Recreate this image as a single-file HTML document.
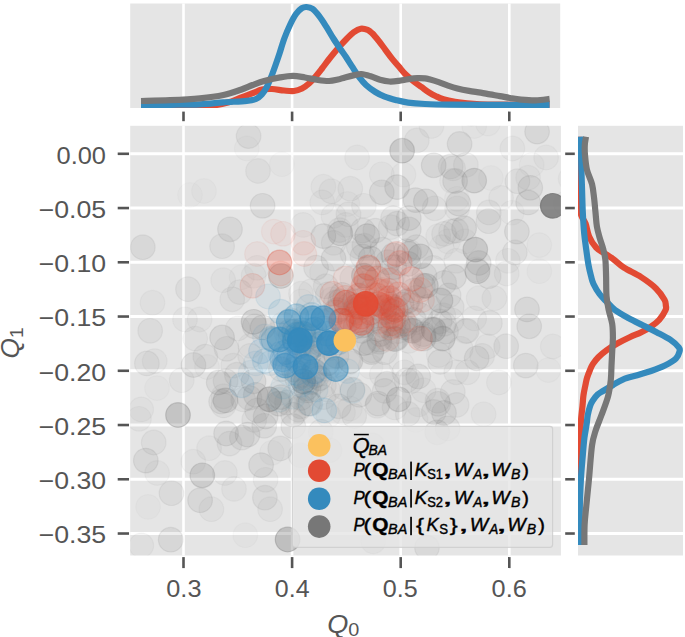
<!DOCTYPE html>
<html><head><meta charset="utf-8"><style>
html,body{margin:0;padding:0;background:#fff;}
svg{display:block;font-family:"Liberation Sans", sans-serif;}
</style></head><body>
<svg width="685" height="637" viewBox="0 0 685 637">
<defs>
<clipPath id="cm"><rect x="130.2" y="125.8" width="430.7" height="429.7"/></clipPath>
<clipPath id="ct"><rect x="130.2" y="3.5" width="430.00000000000006" height="104.5"/></clipPath>
<clipPath id="cr"><rect x="578.0" y="125.8" width="105.0" height="429.7"/></clipPath>
</defs>
<rect width="685" height="637" fill="#fff"/>
<rect x="130.2" y="3.5" width="430.00" height="104.5" fill="#E5E5E5"/>
<line x1="183.50" y1="3.5" x2="183.50" y2="108.0" stroke="#fff" stroke-width="2.6"/>
<line x1="183.50" y1="111.6" x2="183.50" y2="121.2" stroke="#555555" stroke-width="2.6"/>
<line x1="292.10" y1="3.5" x2="292.10" y2="108.0" stroke="#fff" stroke-width="2.6"/>
<line x1="292.10" y1="111.6" x2="292.10" y2="121.2" stroke="#555555" stroke-width="2.6"/>
<line x1="400.70" y1="3.5" x2="400.70" y2="108.0" stroke="#fff" stroke-width="2.6"/>
<line x1="400.70" y1="111.6" x2="400.70" y2="121.2" stroke="#555555" stroke-width="2.6"/>
<line x1="509.30" y1="3.5" x2="509.30" y2="108.0" stroke="#fff" stroke-width="2.6"/>
<line x1="509.30" y1="111.6" x2="509.30" y2="121.2" stroke="#555555" stroke-width="2.6"/>
<path d="M141.00,106.80 C147.50,106.77 168.50,106.77 180.00,106.60 C191.50,106.43 202.00,106.48 210.00,105.80 C218.00,105.12 223.00,103.80 228.00,102.50 C233.00,101.20 235.90,99.55 240.00,98.00 C244.10,96.45 248.93,94.60 252.60,93.20 C256.27,91.80 258.77,90.30 262.00,89.60 C265.23,88.90 268.33,88.85 272.00,89.00 C275.67,89.15 280.33,90.17 284.00,90.50 C287.67,90.83 291.00,91.33 294.00,91.00 C297.00,90.67 299.50,89.75 302.00,88.50 C304.50,87.25 306.67,85.58 309.00,83.50 C311.33,81.42 313.83,78.50 316.00,76.00 C318.17,73.50 320.00,71.08 322.00,68.50 C324.00,65.92 326.00,63.08 328.00,60.50 C330.00,57.92 332.00,55.42 334.00,53.00 C336.00,50.58 337.83,48.42 340.00,46.00 C342.17,43.58 344.72,40.80 347.00,38.50 C349.28,36.20 351.42,33.83 353.70,32.20 C355.98,30.57 358.37,29.08 360.70,28.70 C363.03,28.32 365.78,29.13 367.70,29.90 C369.62,30.67 370.35,31.45 372.20,33.30 C374.05,35.15 376.60,38.25 378.80,41.00 C381.00,43.75 383.20,46.87 385.40,49.80 C387.60,52.73 389.80,55.85 392.00,58.60 C394.20,61.35 396.40,63.73 398.60,66.30 C400.80,68.87 402.63,71.45 405.20,74.00 C407.77,76.55 411.27,79.42 414.00,81.60 C416.73,83.78 419.05,85.27 421.60,87.10 C424.15,88.93 426.90,91.08 429.30,92.60 C431.70,94.12 433.65,95.10 436.00,96.20 C438.35,97.30 440.23,98.27 443.40,99.20 C446.57,100.13 451.07,101.10 455.00,101.80 C458.93,102.50 462.83,102.98 467.00,103.40 C471.17,103.82 474.50,104.10 480.00,104.30 C485.50,104.50 488.40,104.53 500.00,104.60 C511.60,104.67 541.33,104.68 549.60,104.70" fill="none" stroke="#E24A33" stroke-width="6.2" stroke-linejoin="round" clip-path="url(#ct)"/>
<path d="M141.00,105.00 C145.83,104.97 160.17,104.92 170.00,104.80 C179.83,104.68 191.10,104.70 200.00,104.30 C208.90,103.90 215.62,102.98 223.40,102.40 C231.18,101.82 241.27,101.37 246.70,100.80 C252.13,100.23 253.47,100.07 256.00,99.00 C258.53,97.93 260.13,96.33 261.90,94.40 C263.67,92.47 265.05,90.32 266.60,87.40 C268.15,84.48 269.65,80.80 271.20,76.90 C272.75,73.00 274.52,67.90 275.90,64.00 C277.28,60.10 278.10,57.75 279.50,53.50 C280.90,49.25 282.52,43.33 284.30,38.50 C286.08,33.67 288.25,28.58 290.20,24.50 C292.15,20.42 294.05,16.72 296.00,14.00 C297.95,11.28 300.15,9.37 301.90,8.20 C303.65,7.03 304.75,6.90 306.50,7.00 C308.25,7.10 310.25,7.23 312.40,8.80 C314.55,10.37 317.07,13.38 319.40,16.40 C321.73,19.42 324.07,23.22 326.40,26.90 C328.73,30.58 331.07,34.82 333.40,38.50 C335.73,42.18 338.30,45.92 340.40,49.00 C342.50,52.08 344.07,54.10 346.00,57.00 C347.93,59.90 349.83,63.08 352.00,66.40 C354.17,69.72 356.67,73.80 359.00,76.90 C361.33,80.00 363.27,82.48 366.00,85.00 C368.73,87.52 372.28,90.05 375.40,92.00 C378.52,93.95 381.20,95.33 384.70,96.70 C388.20,98.07 392.50,99.22 396.40,100.20 C400.30,101.18 403.33,101.97 408.10,102.60 C412.87,103.23 418.02,103.65 425.00,104.00 C431.98,104.35 437.50,104.55 450.00,104.70 C462.50,104.85 483.40,104.87 500.00,104.90 C516.60,104.93 541.33,104.90 549.60,104.90" fill="none" stroke="#348ABD" stroke-width="6.2" stroke-linejoin="round" clip-path="url(#ct)"/>
<path d="M141.00,101.00 C145.83,100.87 160.17,100.65 170.00,100.20 C179.83,99.75 191.10,99.17 200.00,98.30 C208.90,97.43 216.58,96.43 223.40,95.00 C230.22,93.57 236.03,91.37 240.90,89.70 C245.77,88.03 248.72,86.45 252.60,85.00 C256.48,83.55 259.63,82.27 264.20,81.00 C268.77,79.73 275.20,78.27 280.00,77.40 C284.80,76.53 288.83,75.78 293.00,75.80 C297.17,75.82 300.83,76.80 305.00,77.50 C309.17,78.20 314.00,79.42 318.00,80.00 C322.00,80.58 325.67,81.08 329.00,81.00 C332.33,80.92 335.33,80.10 338.00,79.50 C340.67,78.90 342.28,78.13 345.00,77.40 C347.72,76.67 351.57,75.67 354.30,75.10 C357.03,74.53 358.67,73.80 361.40,74.00 C364.13,74.20 367.60,75.33 370.70,76.30 C373.80,77.27 376.88,78.93 380.00,79.80 C383.12,80.67 386.28,81.32 389.40,81.50 C392.52,81.68 395.58,81.28 398.70,80.90 C401.82,80.52 404.98,79.67 408.10,79.20 C411.22,78.73 414.58,78.25 417.40,78.10 C420.22,77.95 423.02,78.12 425.00,78.30 C426.98,78.48 427.02,78.57 429.30,79.20 C431.58,79.83 435.58,81.03 438.70,82.10 C441.82,83.17 444.88,84.53 448.00,85.60 C451.12,86.67 453.90,87.62 457.40,88.50 C460.90,89.38 465.12,90.22 469.00,90.90 C472.88,91.58 477.20,92.02 480.70,92.60 C484.20,93.18 486.78,93.82 490.00,94.40 C493.22,94.98 496.67,95.50 500.00,96.10 C503.33,96.70 506.50,97.42 510.00,98.00 C513.50,98.58 516.72,99.20 521.00,99.60 C525.28,100.00 530.93,100.52 535.70,100.40 C540.47,100.28 547.28,99.15 549.60,98.90" fill="none" stroke="#777777" stroke-width="6.2" stroke-linejoin="round" clip-path="url(#ct)"/>
<rect x="578.0" y="125.8" width="105.0" height="429.7" fill="#E5E5E5"/>
<line x1="578.0" y1="153.80" x2="683.0" y2="153.80" stroke="#fff" stroke-width="2.9"/>
<line x1="565.2" y1="153.80" x2="574.8" y2="153.80" stroke="#555555" stroke-width="2.6"/>
<line x1="578.0" y1="208.05" x2="683.0" y2="208.05" stroke="#fff" stroke-width="2.9"/>
<line x1="565.2" y1="208.05" x2="574.8" y2="208.05" stroke="#555555" stroke-width="2.6"/>
<line x1="578.0" y1="262.29" x2="683.0" y2="262.29" stroke="#fff" stroke-width="2.9"/>
<line x1="565.2" y1="262.29" x2="574.8" y2="262.29" stroke="#555555" stroke-width="2.6"/>
<line x1="578.0" y1="316.54" x2="683.0" y2="316.54" stroke="#fff" stroke-width="2.9"/>
<line x1="565.2" y1="316.54" x2="574.8" y2="316.54" stroke="#555555" stroke-width="2.6"/>
<line x1="578.0" y1="370.78" x2="683.0" y2="370.78" stroke="#fff" stroke-width="2.9"/>
<line x1="565.2" y1="370.78" x2="574.8" y2="370.78" stroke="#555555" stroke-width="2.6"/>
<line x1="578.0" y1="425.03" x2="683.0" y2="425.03" stroke="#fff" stroke-width="2.9"/>
<line x1="565.2" y1="425.03" x2="574.8" y2="425.03" stroke="#555555" stroke-width="2.6"/>
<line x1="578.0" y1="479.27" x2="683.0" y2="479.27" stroke="#fff" stroke-width="2.9"/>
<line x1="565.2" y1="479.27" x2="574.8" y2="479.27" stroke="#555555" stroke-width="2.6"/>
<line x1="578.0" y1="533.52" x2="683.0" y2="533.52" stroke="#fff" stroke-width="2.9"/>
<line x1="565.2" y1="533.52" x2="574.8" y2="533.52" stroke="#555555" stroke-width="2.6"/>
<path d="M578.80,136.70 C578.77,140.58 578.65,152.12 578.60,160.00 C578.55,167.88 578.40,176.45 578.50,184.00 C578.60,191.55 578.70,199.97 579.20,205.30 C579.70,210.63 580.43,212.95 581.50,216.00 C582.57,219.05 584.33,220.20 585.60,223.60 C586.87,227.00 587.33,232.38 589.10,236.40 C590.87,240.42 593.62,244.88 596.20,247.70 C598.78,250.52 601.78,251.43 604.60,253.30 C607.42,255.17 609.87,256.50 613.10,258.90 C616.33,261.30 619.35,264.68 624.00,267.70 C628.65,270.72 635.67,273.55 641.00,277.00 C646.33,280.45 652.08,284.62 656.00,288.40 C659.92,292.18 662.87,296.88 664.50,299.70 C666.13,302.52 665.62,303.58 665.80,305.30 C665.98,307.02 666.68,307.60 665.60,310.00 C664.52,312.40 661.73,316.93 659.30,319.70 C656.87,322.47 654.00,324.52 651.00,326.60 C648.00,328.68 644.77,330.47 641.30,332.20 C637.83,333.93 634.13,335.15 630.20,337.00 C626.27,338.85 621.63,341.10 617.70,343.30 C613.77,345.50 609.83,347.88 606.60,350.20 C603.37,352.52 600.60,354.88 598.30,357.20 C596.00,359.52 594.18,361.97 592.80,364.10 C591.42,366.23 590.97,367.68 590.00,370.00 C589.03,372.32 587.77,375.47 587.00,378.00 C586.23,380.53 585.98,382.37 585.40,385.20 C584.82,388.03 583.98,391.55 583.50,395.00 C583.02,398.45 582.97,400.93 582.50,405.90 C582.03,410.87 581.17,416.00 580.70,424.80 C580.23,433.60 579.93,446.17 579.70,458.70 C579.47,471.23 579.38,485.62 579.30,500.00 C579.22,514.38 579.22,537.50 579.20,545.00" fill="none" stroke="#E24A33" stroke-width="6.2" stroke-linejoin="round" clip-path="url(#cr)"/>
<path d="M580.50,136.70 C580.58,138.92 580.85,144.45 581.00,150.00 C581.15,155.55 581.22,163.13 581.40,170.00 C581.58,176.87 581.87,184.13 582.10,191.20 C582.33,198.27 582.45,205.35 582.80,212.40 C583.15,219.45 583.62,227.23 584.20,233.50 C584.78,239.77 585.58,244.75 586.30,250.00 C587.02,255.25 587.72,260.67 588.50,265.00 C589.28,269.33 590.17,272.83 591.00,276.00 C591.83,279.17 592.08,281.00 593.50,284.00 C594.92,287.00 597.42,291.17 599.50,294.00 C601.58,296.83 603.42,298.33 606.00,301.00 C608.58,303.67 611.20,307.12 615.00,310.00 C618.80,312.88 624.18,315.75 628.80,318.30 C633.42,320.85 638.07,322.98 642.70,325.30 C647.33,327.62 651.98,329.78 656.60,332.20 C661.22,334.62 666.70,337.27 670.40,339.80 C674.10,342.33 677.28,345.43 678.80,347.40 C680.32,349.37 679.97,349.75 679.50,351.60 C679.03,353.45 678.43,356.18 676.00,358.50 C673.57,360.82 669.07,363.42 664.90,365.50 C660.73,367.58 655.62,369.38 651.00,371.00 C646.38,372.62 641.82,373.82 637.20,375.20 C632.58,376.58 627.38,377.63 623.30,379.30 C619.22,380.97 616.08,383.25 612.70,385.20 C609.32,387.15 605.52,389.43 603.00,391.00 C600.48,392.57 599.35,392.93 597.60,394.60 C595.85,396.27 593.75,399.10 592.50,401.00 C591.25,402.90 590.88,403.67 590.10,406.00 C589.32,408.33 588.40,411.83 587.80,415.00 C587.20,418.17 587.07,421.17 586.50,425.00 C585.93,428.83 585.07,432.38 584.40,438.00 C583.73,443.62 583.07,452.08 582.50,458.70 C581.93,465.32 581.42,470.82 581.00,477.70 C580.58,484.58 580.22,493.78 580.00,500.00 C579.78,506.22 579.75,507.50 579.70,515.00 C579.65,522.50 579.70,540.00 579.70,545.00" fill="none" stroke="#348ABD" stroke-width="6.2" stroke-linejoin="round" clip-path="url(#cr)"/>
<path d="M586.00,136.70 C585.80,138.08 584.97,141.95 584.80,145.00 C584.63,148.05 584.63,150.83 585.00,155.00 C585.37,159.17 585.83,165.15 587.00,170.00 C588.17,174.85 590.82,179.40 592.00,184.10 C593.18,188.80 593.52,193.48 594.10,198.20 C594.68,202.92 595.03,207.68 595.50,212.40 C595.97,217.12 596.20,222.27 596.90,226.50 C597.60,230.73 598.65,234.03 599.70,237.80 C600.75,241.57 602.25,245.40 603.20,249.10 C604.15,252.80 604.92,255.35 605.40,260.00 C605.88,264.65 605.92,271.00 606.10,277.00 C606.28,283.00 606.07,290.50 606.50,296.00 C606.93,301.50 607.75,305.35 608.70,310.00 C609.65,314.65 611.50,319.28 612.20,323.90 C612.90,328.52 612.90,333.08 612.90,337.70 C612.90,342.32 612.43,346.97 612.20,351.60 C611.97,356.23 611.73,360.77 611.50,365.50 C611.27,370.23 611.38,374.83 610.80,380.00 C610.22,385.17 609.57,390.62 608.00,396.50 C606.43,402.38 603.45,409.65 601.40,415.30 C599.35,420.95 597.27,425.37 595.70,430.40 C594.13,435.43 593.10,437.62 592.00,445.50 C590.90,453.38 590.05,467.62 589.10,477.70 C588.15,487.78 587.05,498.15 586.30,506.00 C585.55,513.85 584.92,518.30 584.60,524.80 C584.28,531.30 584.43,541.63 584.40,545.00" fill="none" stroke="#777777" stroke-width="6.2" stroke-linejoin="round" clip-path="url(#cr)"/>
<rect x="130.2" y="125.8" width="430.7" height="429.7" fill="#E5E5E5"/>
<line x1="183.50" y1="125.8" x2="183.50" y2="555.5" stroke="#fff" stroke-width="2.6"/>
<line x1="183.50" y1="557.1" x2="183.50" y2="568.1" stroke="#555555" stroke-width="2.6"/>
<line x1="292.10" y1="125.8" x2="292.10" y2="555.5" stroke="#fff" stroke-width="2.6"/>
<line x1="292.10" y1="557.1" x2="292.10" y2="568.1" stroke="#555555" stroke-width="2.6"/>
<line x1="400.70" y1="125.8" x2="400.70" y2="555.5" stroke="#fff" stroke-width="2.6"/>
<line x1="400.70" y1="557.1" x2="400.70" y2="568.1" stroke="#555555" stroke-width="2.6"/>
<line x1="509.30" y1="125.8" x2="509.30" y2="555.5" stroke="#fff" stroke-width="2.6"/>
<line x1="509.30" y1="557.1" x2="509.30" y2="568.1" stroke="#555555" stroke-width="2.6"/>
<line x1="130.2" y1="153.80" x2="560.9" y2="153.80" stroke="#fff" stroke-width="2.9"/>
<line x1="117.69999999999999" y1="153.80" x2="129.0" y2="153.80" stroke="#555555" stroke-width="2.6"/>
<line x1="130.2" y1="208.05" x2="560.9" y2="208.05" stroke="#fff" stroke-width="2.9"/>
<line x1="117.69999999999999" y1="208.05" x2="129.0" y2="208.05" stroke="#555555" stroke-width="2.6"/>
<line x1="130.2" y1="262.29" x2="560.9" y2="262.29" stroke="#fff" stroke-width="2.9"/>
<line x1="117.69999999999999" y1="262.29" x2="129.0" y2="262.29" stroke="#555555" stroke-width="2.6"/>
<line x1="130.2" y1="316.54" x2="560.9" y2="316.54" stroke="#fff" stroke-width="2.9"/>
<line x1="117.69999999999999" y1="316.54" x2="129.0" y2="316.54" stroke="#555555" stroke-width="2.6"/>
<line x1="130.2" y1="370.78" x2="560.9" y2="370.78" stroke="#fff" stroke-width="2.9"/>
<line x1="117.69999999999999" y1="370.78" x2="129.0" y2="370.78" stroke="#555555" stroke-width="2.6"/>
<line x1="130.2" y1="425.03" x2="560.9" y2="425.03" stroke="#fff" stroke-width="2.9"/>
<line x1="117.69999999999999" y1="425.03" x2="129.0" y2="425.03" stroke="#555555" stroke-width="2.6"/>
<line x1="130.2" y1="479.27" x2="560.9" y2="479.27" stroke="#fff" stroke-width="2.9"/>
<line x1="117.69999999999999" y1="479.27" x2="129.0" y2="479.27" stroke="#555555" stroke-width="2.6"/>
<line x1="130.2" y1="533.52" x2="560.9" y2="533.52" stroke="#fff" stroke-width="2.9"/>
<line x1="117.69999999999999" y1="533.52" x2="129.0" y2="533.52" stroke="#555555" stroke-width="2.6"/>
<g clip-path="url(#cm)">
<circle cx="300.7" cy="406.3" r="12.3" fill="#777777" stroke="#777777" stroke-width="1.2" fill-opacity="0.104" stroke-opacity="0.104"/>
<circle cx="301.1" cy="398.0" r="12.3" fill="#777777" stroke="#777777" stroke-width="1.2" fill-opacity="0.077" stroke-opacity="0.077"/>
<circle cx="444.0" cy="323.8" r="12.3" fill="#777777" stroke="#777777" stroke-width="1.2" fill-opacity="0.080" stroke-opacity="0.080"/>
<circle cx="369.6" cy="292.2" r="12.3" fill="#777777" stroke="#777777" stroke-width="1.2" fill-opacity="0.054" stroke-opacity="0.054"/>
<circle cx="514.8" cy="252.5" r="12.3" fill="#777777" stroke="#777777" stroke-width="1.2" fill-opacity="0.085" stroke-opacity="0.085"/>
<circle cx="592.2" cy="167.1" r="12.3" fill="#777777" stroke="#777777" stroke-width="1.2" fill-opacity="0.107" stroke-opacity="0.107"/>
<circle cx="283.0" cy="324.3" r="12.3" fill="#777777" stroke="#777777" stroke-width="1.2" fill-opacity="0.043" stroke-opacity="0.043"/>
<circle cx="464.9" cy="241.5" r="12.3" fill="#777777" stroke="#777777" stroke-width="1.2" fill-opacity="0.035" stroke-opacity="0.035"/>
<circle cx="416.5" cy="322.3" r="12.3" fill="#777777" stroke="#777777" stroke-width="1.2" fill-opacity="0.032" stroke-opacity="0.032"/>
<circle cx="308.6" cy="390.4" r="12.3" fill="#777777" stroke="#777777" stroke-width="1.2" fill-opacity="0.097" stroke-opacity="0.097"/>
<circle cx="269.3" cy="399.1" r="12.3" fill="#777777" stroke="#777777" stroke-width="1.2" fill-opacity="0.070" stroke-opacity="0.070"/>
<circle cx="303.9" cy="318.1" r="12.3" fill="#777777" stroke="#777777" stroke-width="1.2" fill-opacity="0.052" stroke-opacity="0.052"/>
<circle cx="606.4" cy="103.5" r="12.3" fill="#777777" stroke="#777777" stroke-width="1.2" fill-opacity="0.097" stroke-opacity="0.097"/>
<circle cx="331.9" cy="299.5" r="12.3" fill="#777777" stroke="#777777" stroke-width="1.2" fill-opacity="0.048" stroke-opacity="0.048"/>
<circle cx="380.3" cy="334.1" r="12.3" fill="#777777" stroke="#777777" stroke-width="1.2" fill-opacity="0.091" stroke-opacity="0.091"/>
<circle cx="300.6" cy="455.2" r="12.3" fill="#777777" stroke="#777777" stroke-width="1.2" fill-opacity="0.061" stroke-opacity="0.061"/>
<circle cx="490.9" cy="178.0" r="12.3" fill="#777777" stroke="#777777" stroke-width="1.2" fill-opacity="0.030" stroke-opacity="0.030"/>
<circle cx="482.1" cy="355.9" r="12.3" fill="#777777" stroke="#777777" stroke-width="1.2" fill-opacity="0.068" stroke-opacity="0.068"/>
<circle cx="441.5" cy="247.1" r="12.3" fill="#777777" stroke="#777777" stroke-width="1.2" fill-opacity="0.036" stroke-opacity="0.036"/>
<circle cx="250.3" cy="345.8" r="12.3" fill="#777777" stroke="#777777" stroke-width="1.2" fill-opacity="0.052" stroke-opacity="0.052"/>
<circle cx="444.2" cy="282.9" r="12.3" fill="#777777" stroke="#777777" stroke-width="1.2" fill-opacity="0.107" stroke-opacity="0.107"/>
<circle cx="360.7" cy="295.5" r="12.3" fill="#777777" stroke="#777777" stroke-width="1.2" fill-opacity="0.050" stroke-opacity="0.050"/>
<circle cx="401.7" cy="304.4" r="12.3" fill="#777777" stroke="#777777" stroke-width="1.2" fill-opacity="0.094" stroke-opacity="0.094"/>
<circle cx="451.6" cy="320.3" r="12.3" fill="#777777" stroke="#777777" stroke-width="1.2" fill-opacity="0.066" stroke-opacity="0.066"/>
<circle cx="465.2" cy="331.3" r="12.3" fill="#777777" stroke="#777777" stroke-width="1.2" fill-opacity="0.040" stroke-opacity="0.040"/>
<circle cx="340.7" cy="320.7" r="12.3" fill="#777777" stroke="#777777" stroke-width="1.2" fill-opacity="0.064" stroke-opacity="0.064"/>
<circle cx="412.7" cy="330.9" r="12.3" fill="#777777" stroke="#777777" stroke-width="1.2" fill-opacity="0.108" stroke-opacity="0.108"/>
<circle cx="369.0" cy="268.5" r="12.3" fill="#777777" stroke="#777777" stroke-width="1.2" fill-opacity="0.101" stroke-opacity="0.101"/>
<circle cx="423.5" cy="334.1" r="12.3" fill="#777777" stroke="#777777" stroke-width="1.2" fill-opacity="0.098" stroke-opacity="0.098"/>
<circle cx="343.1" cy="320.6" r="12.3" fill="#777777" stroke="#777777" stroke-width="1.2" fill-opacity="0.109" stroke-opacity="0.109"/>
<circle cx="411.7" cy="330.6" r="12.3" fill="#777777" stroke="#777777" stroke-width="1.2" fill-opacity="0.092" stroke-opacity="0.092"/>
<circle cx="370.5" cy="366.7" r="12.3" fill="#777777" stroke="#777777" stroke-width="1.2" fill-opacity="0.036" stroke-opacity="0.036"/>
<circle cx="476.6" cy="269.4" r="12.3" fill="#777777" stroke="#777777" stroke-width="1.2" fill-opacity="0.049" stroke-opacity="0.049"/>
<circle cx="301.9" cy="343.9" r="12.3" fill="#777777" stroke="#777777" stroke-width="1.2" fill-opacity="0.066" stroke-opacity="0.066"/>
<circle cx="444.1" cy="233.9" r="12.3" fill="#777777" stroke="#777777" stroke-width="1.2" fill-opacity="0.076" stroke-opacity="0.076"/>
<circle cx="389.8" cy="271.1" r="12.3" fill="#777777" stroke="#777777" stroke-width="1.2" fill-opacity="0.042" stroke-opacity="0.042"/>
<circle cx="452.0" cy="180.8" r="12.3" fill="#777777" stroke="#777777" stroke-width="1.2" fill-opacity="0.050" stroke-opacity="0.050"/>
<circle cx="466.7" cy="330.9" r="12.3" fill="#777777" stroke="#777777" stroke-width="1.2" fill-opacity="0.105" stroke-opacity="0.105"/>
<circle cx="506.2" cy="346.2" r="12.3" fill="#777777" stroke="#777777" stroke-width="1.2" fill-opacity="0.101" stroke-opacity="0.101"/>
<circle cx="295.9" cy="345.3" r="12.3" fill="#777777" stroke="#777777" stroke-width="1.2" fill-opacity="0.038" stroke-opacity="0.038"/>
<circle cx="570.6" cy="178.8" r="12.3" fill="#777777" stroke="#777777" stroke-width="1.2" fill-opacity="0.049" stroke-opacity="0.049"/>
<circle cx="335.9" cy="302.4" r="12.3" fill="#777777" stroke="#777777" stroke-width="1.2" fill-opacity="0.096" stroke-opacity="0.096"/>
<circle cx="311.4" cy="341.6" r="12.3" fill="#777777" stroke="#777777" stroke-width="1.2" fill-opacity="0.044" stroke-opacity="0.044"/>
<circle cx="358.1" cy="306.2" r="12.3" fill="#777777" stroke="#777777" stroke-width="1.2" fill-opacity="0.048" stroke-opacity="0.048"/>
<circle cx="223.5" cy="405.4" r="12.3" fill="#777777" stroke="#777777" stroke-width="1.2" fill-opacity="0.079" stroke-opacity="0.079"/>
<circle cx="415.7" cy="420.0" r="12.3" fill="#777777" stroke="#777777" stroke-width="1.2" fill-opacity="0.046" stroke-opacity="0.046"/>
<circle cx="433.3" cy="267.9" r="12.3" fill="#777777" stroke="#777777" stroke-width="1.2" fill-opacity="0.066" stroke-opacity="0.066"/>
<circle cx="423.2" cy="286.5" r="12.3" fill="#777777" stroke="#777777" stroke-width="1.2" fill-opacity="0.060" stroke-opacity="0.060"/>
<circle cx="333.8" cy="337.1" r="12.3" fill="#777777" stroke="#777777" stroke-width="1.2" fill-opacity="0.059" stroke-opacity="0.059"/>
<circle cx="471.3" cy="113.5" r="12.3" fill="#777777" stroke="#777777" stroke-width="1.2" fill-opacity="0.083" stroke-opacity="0.083"/>
<circle cx="301.5" cy="301.3" r="12.3" fill="#777777" stroke="#777777" stroke-width="1.2" fill-opacity="0.041" stroke-opacity="0.041"/>
<circle cx="389.4" cy="304.7" r="12.3" fill="#777777" stroke="#777777" stroke-width="1.2" fill-opacity="0.103" stroke-opacity="0.103"/>
<circle cx="241.6" cy="277.2" r="12.3" fill="#777777" stroke="#777777" stroke-width="1.2" fill-opacity="0.032" stroke-opacity="0.032"/>
<circle cx="294.1" cy="331.9" r="12.3" fill="#777777" stroke="#777777" stroke-width="1.2" fill-opacity="0.088" stroke-opacity="0.088"/>
<circle cx="373.2" cy="541.4" r="12.3" fill="#777777" stroke="#777777" stroke-width="1.2" fill-opacity="0.036" stroke-opacity="0.036"/>
<circle cx="249.4" cy="397.9" r="12.3" fill="#777777" stroke="#777777" stroke-width="1.2" fill-opacity="0.102" stroke-opacity="0.102"/>
<circle cx="316.1" cy="267.6" r="12.3" fill="#777777" stroke="#777777" stroke-width="1.2" fill-opacity="0.093" stroke-opacity="0.093"/>
<circle cx="416.4" cy="247.1" r="12.3" fill="#777777" stroke="#777777" stroke-width="1.2" fill-opacity="0.085" stroke-opacity="0.085"/>
<circle cx="453.1" cy="168.4" r="12.3" fill="#777777" stroke="#777777" stroke-width="1.2" fill-opacity="0.063" stroke-opacity="0.063"/>
<circle cx="348.5" cy="214.2" r="12.3" fill="#777777" stroke="#777777" stroke-width="1.2" fill-opacity="0.076" stroke-opacity="0.076"/>
<circle cx="303.7" cy="334.4" r="12.3" fill="#777777" stroke="#777777" stroke-width="1.2" fill-opacity="0.077" stroke-opacity="0.077"/>
<circle cx="344.3" cy="325.9" r="12.3" fill="#777777" stroke="#777777" stroke-width="1.2" fill-opacity="0.081" stroke-opacity="0.081"/>
<circle cx="517.4" cy="181.2" r="12.3" fill="#777777" stroke="#777777" stroke-width="1.2" fill-opacity="0.088" stroke-opacity="0.088"/>
<circle cx="320.8" cy="431.7" r="12.3" fill="#777777" stroke="#777777" stroke-width="1.2" fill-opacity="0.076" stroke-opacity="0.076"/>
<circle cx="271.9" cy="452.8" r="12.3" fill="#777777" stroke="#777777" stroke-width="1.2" fill-opacity="0.037" stroke-opacity="0.037"/>
<circle cx="367.1" cy="306.2" r="12.3" fill="#777777" stroke="#777777" stroke-width="1.2" fill-opacity="0.078" stroke-opacity="0.078"/>
<circle cx="327.1" cy="363.7" r="12.3" fill="#777777" stroke="#777777" stroke-width="1.2" fill-opacity="0.086" stroke-opacity="0.086"/>
<circle cx="278.3" cy="403.6" r="12.3" fill="#777777" stroke="#777777" stroke-width="1.2" fill-opacity="0.104" stroke-opacity="0.104"/>
<circle cx="379.5" cy="320.7" r="12.3" fill="#777777" stroke="#777777" stroke-width="1.2" fill-opacity="0.054" stroke-opacity="0.054"/>
<circle cx="334.8" cy="312.1" r="12.3" fill="#777777" stroke="#777777" stroke-width="1.2" fill-opacity="0.044" stroke-opacity="0.044"/>
<circle cx="434.7" cy="208.3" r="12.3" fill="#777777" stroke="#777777" stroke-width="1.2" fill-opacity="0.065" stroke-opacity="0.065"/>
<circle cx="405.9" cy="251.1" r="12.3" fill="#777777" stroke="#777777" stroke-width="1.2" fill-opacity="0.083" stroke-opacity="0.083"/>
<circle cx="431.2" cy="329.5" r="12.3" fill="#777777" stroke="#777777" stroke-width="1.2" fill-opacity="0.094" stroke-opacity="0.094"/>
<circle cx="465.9" cy="164.9" r="12.3" fill="#777777" stroke="#777777" stroke-width="1.2" fill-opacity="0.061" stroke-opacity="0.061"/>
<circle cx="307.6" cy="347.5" r="12.3" fill="#777777" stroke="#777777" stroke-width="1.2" fill-opacity="0.041" stroke-opacity="0.041"/>
<circle cx="241.9" cy="437.6" r="12.3" fill="#777777" stroke="#777777" stroke-width="1.2" fill-opacity="0.098" stroke-opacity="0.098"/>
<circle cx="257.0" cy="267.8" r="12.3" fill="#777777" stroke="#777777" stroke-width="1.2" fill-opacity="0.052" stroke-opacity="0.052"/>
<circle cx="443.3" cy="315.3" r="12.3" fill="#777777" stroke="#777777" stroke-width="1.2" fill-opacity="0.052" stroke-opacity="0.052"/>
<circle cx="423.7" cy="336.2" r="12.3" fill="#777777" stroke="#777777" stroke-width="1.2" fill-opacity="0.080" stroke-opacity="0.080"/>
<circle cx="314.7" cy="371.5" r="12.3" fill="#777777" stroke="#777777" stroke-width="1.2" fill-opacity="0.097" stroke-opacity="0.097"/>
<circle cx="448.0" cy="241.3" r="12.3" fill="#777777" stroke="#777777" stroke-width="1.2" fill-opacity="0.036" stroke-opacity="0.036"/>
<circle cx="528.4" cy="202.7" r="12.3" fill="#777777" stroke="#777777" stroke-width="1.2" fill-opacity="0.033" stroke-opacity="0.033"/>
<circle cx="311.0" cy="291.4" r="12.3" fill="#777777" stroke="#777777" stroke-width="1.2" fill-opacity="0.055" stroke-opacity="0.055"/>
<circle cx="372.5" cy="305.0" r="12.3" fill="#777777" stroke="#777777" stroke-width="1.2" fill-opacity="0.041" stroke-opacity="0.041"/>
<circle cx="361.8" cy="330.9" r="12.3" fill="#777777" stroke="#777777" stroke-width="1.2" fill-opacity="0.096" stroke-opacity="0.096"/>
<circle cx="395.7" cy="331.8" r="12.3" fill="#777777" stroke="#777777" stroke-width="1.2" fill-opacity="0.034" stroke-opacity="0.034"/>
<circle cx="296.8" cy="334.4" r="12.3" fill="#777777" stroke="#777777" stroke-width="1.2" fill-opacity="0.080" stroke-opacity="0.080"/>
<circle cx="254.8" cy="326.3" r="12.3" fill="#777777" stroke="#777777" stroke-width="1.2" fill-opacity="0.107" stroke-opacity="0.107"/>
<circle cx="336.5" cy="310.2" r="12.3" fill="#777777" stroke="#777777" stroke-width="1.2" fill-opacity="0.068" stroke-opacity="0.068"/>
<circle cx="383.8" cy="315.7" r="12.3" fill="#777777" stroke="#777777" stroke-width="1.2" fill-opacity="0.068" stroke-opacity="0.068"/>
<circle cx="345.4" cy="302.1" r="12.3" fill="#777777" stroke="#777777" stroke-width="1.2" fill-opacity="0.052" stroke-opacity="0.052"/>
<circle cx="354.2" cy="416.1" r="12.3" fill="#777777" stroke="#777777" stroke-width="1.2" fill-opacity="0.072" stroke-opacity="0.072"/>
<circle cx="250.2" cy="355.9" r="12.3" fill="#777777" stroke="#777777" stroke-width="1.2" fill-opacity="0.061" stroke-opacity="0.061"/>
<circle cx="347.5" cy="204.0" r="12.3" fill="#777777" stroke="#777777" stroke-width="1.2" fill-opacity="0.037" stroke-opacity="0.037"/>
<circle cx="456.9" cy="198.8" r="12.3" fill="#777777" stroke="#777777" stroke-width="1.2" fill-opacity="0.040" stroke-opacity="0.040"/>
<circle cx="293.2" cy="414.7" r="12.3" fill="#777777" stroke="#777777" stroke-width="1.2" fill-opacity="0.103" stroke-opacity="0.103"/>
<circle cx="338.6" cy="406.3" r="12.3" fill="#777777" stroke="#777777" stroke-width="1.2" fill-opacity="0.100" stroke-opacity="0.100"/>
<circle cx="350.3" cy="188.7" r="12.3" fill="#777777" stroke="#777777" stroke-width="1.2" fill-opacity="0.067" stroke-opacity="0.067"/>
<circle cx="329.5" cy="320.4" r="12.3" fill="#777777" stroke="#777777" stroke-width="1.2" fill-opacity="0.088" stroke-opacity="0.088"/>
<circle cx="375.3" cy="230.6" r="12.3" fill="#777777" stroke="#777777" stroke-width="1.2" fill-opacity="0.087" stroke-opacity="0.087"/>
<circle cx="476.7" cy="358.3" r="12.3" fill="#777777" stroke="#777777" stroke-width="1.2" fill-opacity="0.108" stroke-opacity="0.108"/>
<circle cx="456.1" cy="230.6" r="12.3" fill="#777777" stroke="#777777" stroke-width="1.2" fill-opacity="0.093" stroke-opacity="0.093"/>
<circle cx="372.4" cy="445.5" r="12.3" fill="#777777" stroke="#777777" stroke-width="1.2" fill-opacity="0.098" stroke-opacity="0.098"/>
<circle cx="368.8" cy="342.4" r="12.3" fill="#777777" stroke="#777777" stroke-width="1.2" fill-opacity="0.065" stroke-opacity="0.065"/>
<circle cx="243.2" cy="399.4" r="12.3" fill="#777777" stroke="#777777" stroke-width="1.2" fill-opacity="0.069" stroke-opacity="0.069"/>
<circle cx="511.8" cy="212.7" r="12.3" fill="#777777" stroke="#777777" stroke-width="1.2" fill-opacity="0.035" stroke-opacity="0.035"/>
<circle cx="369.6" cy="282.0" r="12.3" fill="#777777" stroke="#777777" stroke-width="1.2" fill-opacity="0.057" stroke-opacity="0.057"/>
<circle cx="367.0" cy="287.7" r="12.3" fill="#777777" stroke="#777777" stroke-width="1.2" fill-opacity="0.042" stroke-opacity="0.042"/>
<circle cx="257.1" cy="410.5" r="12.3" fill="#777777" stroke="#777777" stroke-width="1.2" fill-opacity="0.097" stroke-opacity="0.097"/>
<circle cx="239.7" cy="292.1" r="12.3" fill="#777777" stroke="#777777" stroke-width="1.2" fill-opacity="0.069" stroke-opacity="0.069"/>
<circle cx="399.2" cy="284.7" r="12.3" fill="#777777" stroke="#777777" stroke-width="1.2" fill-opacity="0.048" stroke-opacity="0.048"/>
<circle cx="312.9" cy="362.0" r="12.3" fill="#777777" stroke="#777777" stroke-width="1.2" fill-opacity="0.088" stroke-opacity="0.088"/>
<circle cx="289.9" cy="331.5" r="12.3" fill="#777777" stroke="#777777" stroke-width="1.2" fill-opacity="0.097" stroke-opacity="0.097"/>
<circle cx="308.0" cy="354.7" r="12.3" fill="#777777" stroke="#777777" stroke-width="1.2" fill-opacity="0.060" stroke-opacity="0.060"/>
<circle cx="403.5" cy="174.7" r="12.3" fill="#777777" stroke="#777777" stroke-width="1.2" fill-opacity="0.047" stroke-opacity="0.047"/>
<circle cx="416.8" cy="140.5" r="12.3" fill="#777777" stroke="#777777" stroke-width="1.2" fill-opacity="0.072" stroke-opacity="0.072"/>
<circle cx="323.1" cy="342.6" r="12.3" fill="#777777" stroke="#777777" stroke-width="1.2" fill-opacity="0.073" stroke-opacity="0.073"/>
<circle cx="277.9" cy="400.7" r="12.3" fill="#777777" stroke="#777777" stroke-width="1.2" fill-opacity="0.032" stroke-opacity="0.032"/>
<circle cx="451.1" cy="231.6" r="12.3" fill="#777777" stroke="#777777" stroke-width="1.2" fill-opacity="0.062" stroke-opacity="0.062"/>
<circle cx="364.4" cy="245.7" r="12.3" fill="#777777" stroke="#777777" stroke-width="1.2" fill-opacity="0.069" stroke-opacity="0.069"/>
<circle cx="354.5" cy="311.2" r="12.3" fill="#777777" stroke="#777777" stroke-width="1.2" fill-opacity="0.073" stroke-opacity="0.073"/>
<circle cx="264.9" cy="497.7" r="12.3" fill="#777777" stroke="#777777" stroke-width="1.2" fill-opacity="0.104" stroke-opacity="0.104"/>
<circle cx="401.5" cy="363.8" r="12.3" fill="#777777" stroke="#777777" stroke-width="1.2" fill-opacity="0.040" stroke-opacity="0.040"/>
<circle cx="280.2" cy="448.5" r="12.3" fill="#777777" stroke="#777777" stroke-width="1.2" fill-opacity="0.102" stroke-opacity="0.102"/>
<circle cx="318.1" cy="374.5" r="12.3" fill="#777777" stroke="#777777" stroke-width="1.2" fill-opacity="0.045" stroke-opacity="0.045"/>
<circle cx="207.0" cy="367.0" r="12.3" fill="#777777" stroke="#777777" stroke-width="1.2" fill-opacity="0.040" stroke-opacity="0.040"/>
<circle cx="371.0" cy="305.0" r="12.3" fill="#777777" stroke="#777777" stroke-width="1.2" fill-opacity="0.046" stroke-opacity="0.046"/>
<circle cx="438.8" cy="355.0" r="12.3" fill="#777777" stroke="#777777" stroke-width="1.2" fill-opacity="0.056" stroke-opacity="0.056"/>
<circle cx="349.9" cy="408.5" r="12.3" fill="#777777" stroke="#777777" stroke-width="1.2" fill-opacity="0.038" stroke-opacity="0.038"/>
<circle cx="354.4" cy="300.8" r="12.3" fill="#777777" stroke="#777777" stroke-width="1.2" fill-opacity="0.071" stroke-opacity="0.071"/>
<circle cx="396.2" cy="338.8" r="12.3" fill="#777777" stroke="#777777" stroke-width="1.2" fill-opacity="0.072" stroke-opacity="0.072"/>
<circle cx="323.9" cy="385.3" r="12.3" fill="#777777" stroke="#777777" stroke-width="1.2" fill-opacity="0.063" stroke-opacity="0.063"/>
<circle cx="330.6" cy="348.0" r="12.3" fill="#777777" stroke="#777777" stroke-width="1.2" fill-opacity="0.046" stroke-opacity="0.046"/>
<circle cx="273.0" cy="339.1" r="12.3" fill="#777777" stroke="#777777" stroke-width="1.2" fill-opacity="0.072" stroke-opacity="0.072"/>
<circle cx="397.2" cy="223.6" r="12.3" fill="#777777" stroke="#777777" stroke-width="1.2" fill-opacity="0.099" stroke-opacity="0.099"/>
<circle cx="440.1" cy="361.9" r="12.3" fill="#777777" stroke="#777777" stroke-width="1.2" fill-opacity="0.095" stroke-opacity="0.095"/>
<circle cx="409.3" cy="251.8" r="12.3" fill="#777777" stroke="#777777" stroke-width="1.2" fill-opacity="0.055" stroke-opacity="0.055"/>
<circle cx="408.3" cy="263.9" r="12.3" fill="#777777" stroke="#777777" stroke-width="1.2" fill-opacity="0.110" stroke-opacity="0.110"/>
<circle cx="392.6" cy="276.7" r="12.3" fill="#777777" stroke="#777777" stroke-width="1.2" fill-opacity="0.049" stroke-opacity="0.049"/>
<circle cx="342.3" cy="294.9" r="12.3" fill="#777777" stroke="#777777" stroke-width="1.2" fill-opacity="0.038" stroke-opacity="0.038"/>
<circle cx="382.2" cy="249.7" r="12.3" fill="#777777" stroke="#777777" stroke-width="1.2" fill-opacity="0.093" stroke-opacity="0.093"/>
<circle cx="448.6" cy="295.4" r="12.3" fill="#777777" stroke="#777777" stroke-width="1.2" fill-opacity="0.085" stroke-opacity="0.085"/>
<circle cx="424.4" cy="275.3" r="12.3" fill="#777777" stroke="#777777" stroke-width="1.2" fill-opacity="0.085" stroke-opacity="0.085"/>
<circle cx="487.9" cy="123.6" r="12.3" fill="#777777" stroke="#777777" stroke-width="1.2" fill-opacity="0.039" stroke-opacity="0.039"/>
<circle cx="254.2" cy="419.9" r="12.3" fill="#777777" stroke="#777777" stroke-width="1.2" fill-opacity="0.070" stroke-opacity="0.070"/>
<circle cx="337.9" cy="309.9" r="12.3" fill="#777777" stroke="#777777" stroke-width="1.2" fill-opacity="0.036" stroke-opacity="0.036"/>
<circle cx="395.8" cy="307.3" r="12.3" fill="#777777" stroke="#777777" stroke-width="1.2" fill-opacity="0.074" stroke-opacity="0.074"/>
<circle cx="280.0" cy="392.8" r="12.3" fill="#777777" stroke="#777777" stroke-width="1.2" fill-opacity="0.042" stroke-opacity="0.042"/>
<circle cx="413.9" cy="319.9" r="12.3" fill="#777777" stroke="#777777" stroke-width="1.2" fill-opacity="0.097" stroke-opacity="0.097"/>
<circle cx="531.7" cy="164.9" r="12.3" fill="#777777" stroke="#777777" stroke-width="1.2" fill-opacity="0.038" stroke-opacity="0.038"/>
<circle cx="565.7" cy="203.6" r="12.3" fill="#777777" stroke="#777777" stroke-width="1.2" fill-opacity="0.067" stroke-opacity="0.067"/>
<circle cx="352.3" cy="278.2" r="12.3" fill="#777777" stroke="#777777" stroke-width="1.2" fill-opacity="0.067" stroke-opacity="0.067"/>
<circle cx="297.2" cy="378.5" r="12.3" fill="#777777" stroke="#777777" stroke-width="1.2" fill-opacity="0.078" stroke-opacity="0.078"/>
<circle cx="488.5" cy="221.2" r="12.3" fill="#777777" stroke="#777777" stroke-width="1.2" fill-opacity="0.098" stroke-opacity="0.098"/>
<circle cx="439.6" cy="321.4" r="12.3" fill="#777777" stroke="#777777" stroke-width="1.2" fill-opacity="0.089" stroke-opacity="0.089"/>
<circle cx="348.3" cy="362.9" r="12.3" fill="#777777" stroke="#777777" stroke-width="1.2" fill-opacity="0.043" stroke-opacity="0.043"/>
<circle cx="362.1" cy="325.7" r="12.3" fill="#777777" stroke="#777777" stroke-width="1.2" fill-opacity="0.101" stroke-opacity="0.101"/>
<circle cx="362.7" cy="230.5" r="12.3" fill="#777777" stroke="#777777" stroke-width="1.2" fill-opacity="0.099" stroke-opacity="0.099"/>
<circle cx="301.8" cy="333.1" r="12.3" fill="#777777" stroke="#777777" stroke-width="1.2" fill-opacity="0.078" stroke-opacity="0.078"/>
<circle cx="171.5" cy="493.2" r="12.3" fill="#777777" stroke="#777777" stroke-width="1.2" fill-opacity="0.094" stroke-opacity="0.094"/>
<circle cx="437.5" cy="400.7" r="12.3" fill="#777777" stroke="#777777" stroke-width="1.2" fill-opacity="0.090" stroke-opacity="0.090"/>
<circle cx="339.6" cy="230.1" r="12.3" fill="#777777" stroke="#777777" stroke-width="1.2" fill-opacity="0.062" stroke-opacity="0.062"/>
<circle cx="450.7" cy="166.4" r="12.3" fill="#777777" stroke="#777777" stroke-width="1.2" fill-opacity="0.086" stroke-opacity="0.086"/>
<circle cx="333.7" cy="242.9" r="12.3" fill="#777777" stroke="#777777" stroke-width="1.2" fill-opacity="0.062" stroke-opacity="0.062"/>
<circle cx="358.3" cy="305.7" r="12.3" fill="#777777" stroke="#777777" stroke-width="1.2" fill-opacity="0.057" stroke-opacity="0.057"/>
<circle cx="365.8" cy="325.1" r="12.3" fill="#777777" stroke="#777777" stroke-width="1.2" fill-opacity="0.058" stroke-opacity="0.058"/>
<circle cx="277.1" cy="334.0" r="12.3" fill="#777777" stroke="#777777" stroke-width="1.2" fill-opacity="0.049" stroke-opacity="0.049"/>
<circle cx="457.1" cy="208.5" r="12.3" fill="#777777" stroke="#777777" stroke-width="1.2" fill-opacity="0.057" stroke-opacity="0.057"/>
<circle cx="290.6" cy="320.3" r="12.3" fill="#777777" stroke="#777777" stroke-width="1.2" fill-opacity="0.073" stroke-opacity="0.073"/>
<circle cx="231.1" cy="620.6" r="12.3" fill="#777777" stroke="#777777" stroke-width="1.2" fill-opacity="0.081" stroke-opacity="0.081"/>
<circle cx="309.6" cy="336.6" r="12.3" fill="#777777" stroke="#777777" stroke-width="1.2" fill-opacity="0.118" stroke-opacity="0.118"/>
<circle cx="384.7" cy="390.9" r="12.3" fill="#777777" stroke="#777777" stroke-width="1.2" fill-opacity="0.099" stroke-opacity="0.099"/>
<circle cx="328.3" cy="415.4" r="12.3" fill="#777777" stroke="#777777" stroke-width="1.2" fill-opacity="0.044" stroke-opacity="0.044"/>
<circle cx="343.0" cy="412.4" r="12.3" fill="#777777" stroke="#777777" stroke-width="1.2" fill-opacity="0.048" stroke-opacity="0.048"/>
<circle cx="329.5" cy="450.2" r="12.3" fill="#777777" stroke="#777777" stroke-width="1.2" fill-opacity="0.084" stroke-opacity="0.084"/>
<circle cx="225.6" cy="381.1" r="12.3" fill="#777777" stroke="#777777" stroke-width="1.2" fill-opacity="0.085" stroke-opacity="0.085"/>
<circle cx="387.0" cy="383.7" r="12.3" fill="#777777" stroke="#777777" stroke-width="1.2" fill-opacity="0.105" stroke-opacity="0.105"/>
<circle cx="377.9" cy="403.6" r="12.3" fill="#777777" stroke="#777777" stroke-width="1.2" fill-opacity="0.101" stroke-opacity="0.101"/>
<circle cx="418.6" cy="404.4" r="12.3" fill="#777777" stroke="#777777" stroke-width="1.2" fill-opacity="0.053" stroke-opacity="0.053"/>
<circle cx="306.0" cy="388.2" r="12.3" fill="#777777" stroke="#777777" stroke-width="1.2" fill-opacity="0.080" stroke-opacity="0.080"/>
<circle cx="319.4" cy="378.3" r="12.3" fill="#777777" stroke="#777777" stroke-width="1.2" fill-opacity="0.116" stroke-opacity="0.116"/>
<circle cx="287.0" cy="402.5" r="12.3" fill="#777777" stroke="#777777" stroke-width="1.2" fill-opacity="0.088" stroke-opacity="0.088"/>
<circle cx="308.2" cy="403.4" r="12.3" fill="#777777" stroke="#777777" stroke-width="1.2" fill-opacity="0.092" stroke-opacity="0.092"/>
<circle cx="299.7" cy="375.9" r="12.3" fill="#777777" stroke="#777777" stroke-width="1.2" fill-opacity="0.097" stroke-opacity="0.097"/>
<circle cx="328.1" cy="389.8" r="12.3" fill="#777777" stroke="#777777" stroke-width="1.2" fill-opacity="0.060" stroke-opacity="0.060"/>
<circle cx="352.5" cy="389.6" r="12.3" fill="#777777" stroke="#777777" stroke-width="1.2" fill-opacity="0.100" stroke-opacity="0.100"/>
<circle cx="264.2" cy="425.8" r="12.3" fill="#777777" stroke="#777777" stroke-width="1.2" fill-opacity="0.100" stroke-opacity="0.100"/>
<circle cx="444.0" cy="412.9" r="12.3" fill="#777777" stroke="#777777" stroke-width="1.2" fill-opacity="0.116" stroke-opacity="0.116"/>
<circle cx="407.8" cy="414.0" r="12.3" fill="#777777" stroke="#777777" stroke-width="1.2" fill-opacity="0.074" stroke-opacity="0.074"/>
<circle cx="223.5" cy="396.3" r="12.3" fill="#777777" stroke="#777777" stroke-width="1.2" fill-opacity="0.059" stroke-opacity="0.059"/>
<circle cx="236.9" cy="374.7" r="12.3" fill="#777777" stroke="#777777" stroke-width="1.2" fill-opacity="0.098" stroke-opacity="0.098"/>
<circle cx="221.1" cy="401.5" r="12.3" fill="#777777" stroke="#777777" stroke-width="1.2" fill-opacity="0.105" stroke-opacity="0.105"/>
<circle cx="314.3" cy="376.0" r="12.3" fill="#777777" stroke="#777777" stroke-width="1.2" fill-opacity="0.090" stroke-opacity="0.090"/>
<circle cx="304.0" cy="390.6" r="12.3" fill="#777777" stroke="#777777" stroke-width="1.2" fill-opacity="0.044" stroke-opacity="0.044"/>
<circle cx="309.7" cy="382.3" r="12.3" fill="#777777" stroke="#777777" stroke-width="1.2" fill-opacity="0.075" stroke-opacity="0.075"/>
<circle cx="308.2" cy="356.2" r="12.3" fill="#777777" stroke="#777777" stroke-width="1.2" fill-opacity="0.061" stroke-opacity="0.061"/>
<circle cx="293.7" cy="369.5" r="12.3" fill="#777777" stroke="#777777" stroke-width="1.2" fill-opacity="0.102" stroke-opacity="0.102"/>
<circle cx="193.5" cy="365.0" r="12.3" fill="#777777" stroke="#777777" stroke-width="1.2" fill-opacity="0.116" stroke-opacity="0.116"/>
<circle cx="327.1" cy="363.0" r="12.3" fill="#777777" stroke="#777777" stroke-width="1.2" fill-opacity="0.049" stroke-opacity="0.049"/>
<circle cx="384.7" cy="352.2" r="12.3" fill="#777777" stroke="#777777" stroke-width="1.2" fill-opacity="0.090" stroke-opacity="0.090"/>
<circle cx="309.8" cy="403.5" r="12.3" fill="#777777" stroke="#777777" stroke-width="1.2" fill-opacity="0.095" stroke-opacity="0.095"/>
<circle cx="280.9" cy="369.1" r="12.3" fill="#777777" stroke="#777777" stroke-width="1.2" fill-opacity="0.091" stroke-opacity="0.091"/>
<circle cx="330.5" cy="365.5" r="12.3" fill="#777777" stroke="#777777" stroke-width="1.2" fill-opacity="0.060" stroke-opacity="0.060"/>
<circle cx="418.2" cy="376.5" r="12.3" fill="#777777" stroke="#777777" stroke-width="1.2" fill-opacity="0.110" stroke-opacity="0.110"/>
<circle cx="343.7" cy="387.6" r="12.3" fill="#777777" stroke="#777777" stroke-width="1.2" fill-opacity="0.062" stroke-opacity="0.062"/>
<circle cx="280.2" cy="404.0" r="12.3" fill="#777777" stroke="#777777" stroke-width="1.2" fill-opacity="0.048" stroke-opacity="0.048"/>
<circle cx="315.0" cy="382.0" r="12.3" fill="#777777" stroke="#777777" stroke-width="1.2" fill-opacity="0.047" stroke-opacity="0.047"/>
<circle cx="307.4" cy="351.1" r="12.3" fill="#777777" stroke="#777777" stroke-width="1.2" fill-opacity="0.090" stroke-opacity="0.090"/>
<circle cx="298.1" cy="409.5" r="12.3" fill="#777777" stroke="#777777" stroke-width="1.2" fill-opacity="0.057" stroke-opacity="0.057"/>
<circle cx="293.3" cy="426.2" r="12.3" fill="#777777" stroke="#777777" stroke-width="1.2" fill-opacity="0.107" stroke-opacity="0.107"/>
<circle cx="327.8" cy="294.3" r="12.3" fill="#777777" stroke="#777777" stroke-width="1.2" fill-opacity="0.075" stroke-opacity="0.075"/>
<circle cx="336.4" cy="355.9" r="12.3" fill="#777777" stroke="#777777" stroke-width="1.2" fill-opacity="0.101" stroke-opacity="0.101"/>
<circle cx="340.3" cy="301.2" r="12.3" fill="#777777" stroke="#777777" stroke-width="1.2" fill-opacity="0.105" stroke-opacity="0.105"/>
<circle cx="358.8" cy="246.4" r="12.3" fill="#777777" stroke="#777777" stroke-width="1.2" fill-opacity="0.077" stroke-opacity="0.077"/>
<circle cx="394.1" cy="267.1" r="12.3" fill="#777777" stroke="#777777" stroke-width="1.2" fill-opacity="0.117" stroke-opacity="0.117"/>
<circle cx="393.3" cy="255.5" r="12.3" fill="#777777" stroke="#777777" stroke-width="1.2" fill-opacity="0.120" stroke-opacity="0.120"/>
<circle cx="413.6" cy="290.6" r="12.3" fill="#777777" stroke="#777777" stroke-width="1.2" fill-opacity="0.087" stroke-opacity="0.087"/>
<circle cx="362.5" cy="256.4" r="12.3" fill="#777777" stroke="#777777" stroke-width="1.2" fill-opacity="0.078" stroke-opacity="0.078"/>
<circle cx="361.2" cy="306.7" r="12.3" fill="#777777" stroke="#777777" stroke-width="1.2" fill-opacity="0.107" stroke-opacity="0.107"/>
<circle cx="402.1" cy="298.6" r="12.3" fill="#777777" stroke="#777777" stroke-width="1.2" fill-opacity="0.055" stroke-opacity="0.055"/>
<circle cx="383.3" cy="325.2" r="12.3" fill="#777777" stroke="#777777" stroke-width="1.2" fill-opacity="0.066" stroke-opacity="0.066"/>
<circle cx="384.6" cy="298.4" r="12.3" fill="#777777" stroke="#777777" stroke-width="1.2" fill-opacity="0.068" stroke-opacity="0.068"/>
<circle cx="405.4" cy="323.9" r="12.3" fill="#777777" stroke="#777777" stroke-width="1.2" fill-opacity="0.110" stroke-opacity="0.110"/>
<circle cx="379.3" cy="308.1" r="12.3" fill="#777777" stroke="#777777" stroke-width="1.2" fill-opacity="0.081" stroke-opacity="0.081"/>
<circle cx="322.0" cy="272.4" r="12.3" fill="#777777" stroke="#777777" stroke-width="1.2" fill-opacity="0.043" stroke-opacity="0.043"/>
<circle cx="388.9" cy="310.1" r="12.3" fill="#777777" stroke="#777777" stroke-width="1.2" fill-opacity="0.060" stroke-opacity="0.060"/>
<circle cx="379.1" cy="339.6" r="12.3" fill="#777777" stroke="#777777" stroke-width="1.2" fill-opacity="0.094" stroke-opacity="0.094"/>
<circle cx="377.9" cy="315.8" r="12.3" fill="#777777" stroke="#777777" stroke-width="1.2" fill-opacity="0.065" stroke-opacity="0.065"/>
<circle cx="397.1" cy="337.2" r="12.3" fill="#777777" stroke="#777777" stroke-width="1.2" fill-opacity="0.068" stroke-opacity="0.068"/>
<circle cx="325.7" cy="286.2" r="12.3" fill="#777777" stroke="#777777" stroke-width="1.2" fill-opacity="0.083" stroke-opacity="0.083"/>
<circle cx="371.2" cy="352.1" r="12.3" fill="#777777" stroke="#777777" stroke-width="1.2" fill-opacity="0.122" stroke-opacity="0.122"/>
<circle cx="355.7" cy="326.4" r="12.3" fill="#777777" stroke="#777777" stroke-width="1.2" fill-opacity="0.126" stroke-opacity="0.126"/>
<circle cx="355.3" cy="301.9" r="12.3" fill="#777777" stroke="#777777" stroke-width="1.2" fill-opacity="0.044" stroke-opacity="0.044"/>
<circle cx="422.6" cy="285.4" r="12.3" fill="#777777" stroke="#777777" stroke-width="1.2" fill-opacity="0.075" stroke-opacity="0.075"/>
<circle cx="341.8" cy="294.8" r="12.3" fill="#777777" stroke="#777777" stroke-width="1.2" fill-opacity="0.065" stroke-opacity="0.065"/>
<circle cx="415.9" cy="297.8" r="12.3" fill="#777777" stroke="#777777" stroke-width="1.2" fill-opacity="0.061" stroke-opacity="0.061"/>
<circle cx="406.6" cy="301.9" r="12.3" fill="#777777" stroke="#777777" stroke-width="1.2" fill-opacity="0.073" stroke-opacity="0.073"/>
<circle cx="387.8" cy="262.2" r="12.3" fill="#777777" stroke="#777777" stroke-width="1.2" fill-opacity="0.095" stroke-opacity="0.095"/>
<circle cx="384.0" cy="312.2" r="12.3" fill="#777777" stroke="#777777" stroke-width="1.2" fill-opacity="0.069" stroke-opacity="0.069"/>
<circle cx="371.7" cy="350.3" r="12.3" fill="#777777" stroke="#777777" stroke-width="1.2" fill-opacity="0.086" stroke-opacity="0.086"/>
<circle cx="446.0" cy="331.5" r="12.3" fill="#777777" stroke="#777777" stroke-width="1.2" fill-opacity="0.090" stroke-opacity="0.090"/>
<circle cx="420.2" cy="315.1" r="12.3" fill="#777777" stroke="#777777" stroke-width="1.2" fill-opacity="0.106" stroke-opacity="0.106"/>
<circle cx="396.1" cy="318.3" r="12.3" fill="#777777" stroke="#777777" stroke-width="1.2" fill-opacity="0.046" stroke-opacity="0.046"/>
<circle cx="411.3" cy="380.9" r="12.3" fill="#777777" stroke="#777777" stroke-width="1.2" fill-opacity="0.089" stroke-opacity="0.089"/>
<circle cx="377.1" cy="405.8" r="12.3" fill="#777777" stroke="#777777" stroke-width="1.2" fill-opacity="0.065" stroke-opacity="0.065"/>
<circle cx="395.0" cy="339.1" r="12.3" fill="#777777" stroke="#777777" stroke-width="1.2" fill-opacity="0.108" stroke-opacity="0.108"/>
<circle cx="452.8" cy="392.0" r="12.3" fill="#777777" stroke="#777777" stroke-width="1.2" fill-opacity="0.078" stroke-opacity="0.078"/>
<circle cx="374.3" cy="318.3" r="12.3" fill="#777777" stroke="#777777" stroke-width="1.2" fill-opacity="0.059" stroke-opacity="0.059"/>
<circle cx="488.6" cy="276.2" r="12.3" fill="#777777" stroke="#777777" stroke-width="1.2" fill-opacity="0.097" stroke-opacity="0.097"/>
<circle cx="397.7" cy="324.3" r="12.3" fill="#777777" stroke="#777777" stroke-width="1.2" fill-opacity="0.098" stroke-opacity="0.098"/>
<circle cx="394.6" cy="407.4" r="12.3" fill="#777777" stroke="#777777" stroke-width="1.2" fill-opacity="0.057" stroke-opacity="0.057"/>
<circle cx="359.4" cy="305.6" r="12.3" fill="#777777" stroke="#777777" stroke-width="1.2" fill-opacity="0.053" stroke-opacity="0.053"/>
<circle cx="398.6" cy="330.9" r="12.3" fill="#777777" stroke="#777777" stroke-width="1.2" fill-opacity="0.042" stroke-opacity="0.042"/>
<circle cx="447.6" cy="428.4" r="12.3" fill="#777777" stroke="#777777" stroke-width="1.2" fill-opacity="0.106" stroke-opacity="0.106"/>
<circle cx="396.0" cy="309.8" r="12.3" fill="#777777" stroke="#777777" stroke-width="1.2" fill-opacity="0.087" stroke-opacity="0.087"/>
<circle cx="407.7" cy="300.8" r="12.3" fill="#777777" stroke="#777777" stroke-width="1.2" fill-opacity="0.081" stroke-opacity="0.081"/>
<circle cx="411.8" cy="329.0" r="12.3" fill="#777777" stroke="#777777" stroke-width="1.2" fill-opacity="0.054" stroke-opacity="0.054"/>
<circle cx="393.7" cy="338.9" r="12.3" fill="#777777" stroke="#777777" stroke-width="1.2" fill-opacity="0.067" stroke-opacity="0.067"/>
<circle cx="393.2" cy="325.9" r="12.3" fill="#777777" stroke="#777777" stroke-width="1.2" fill-opacity="0.076" stroke-opacity="0.076"/>
<circle cx="406.7" cy="380.2" r="12.3" fill="#777777" stroke="#777777" stroke-width="1.2" fill-opacity="0.063" stroke-opacity="0.063"/>
<circle cx="404.8" cy="327.4" r="12.3" fill="#777777" stroke="#777777" stroke-width="1.2" fill-opacity="0.087" stroke-opacity="0.087"/>
<circle cx="456.6" cy="404.9" r="12.3" fill="#777777" stroke="#777777" stroke-width="1.2" fill-opacity="0.082" stroke-opacity="0.082"/>
<circle cx="379.7" cy="341.8" r="12.3" fill="#777777" stroke="#777777" stroke-width="1.2" fill-opacity="0.084" stroke-opacity="0.084"/>
<circle cx="391.2" cy="280.3" r="12.3" fill="#777777" stroke="#777777" stroke-width="1.2" fill-opacity="0.093" stroke-opacity="0.093"/>
<circle cx="313.4" cy="345.1" r="12.3" fill="#777777" stroke="#777777" stroke-width="1.2" fill-opacity="0.099" stroke-opacity="0.099"/>
<circle cx="428.9" cy="306.6" r="12.3" fill="#777777" stroke="#777777" stroke-width="1.2" fill-opacity="0.070" stroke-opacity="0.070"/>
<circle cx="350.4" cy="304.4" r="12.3" fill="#777777" stroke="#777777" stroke-width="1.2" fill-opacity="0.077" stroke-opacity="0.077"/>
<circle cx="378.5" cy="329.2" r="12.3" fill="#777777" stroke="#777777" stroke-width="1.2" fill-opacity="0.103" stroke-opacity="0.103"/>
<circle cx="248.6" cy="136.1" r="12.3" fill="#777777" stroke="#777777" stroke-width="1.2" fill-opacity="0.100" stroke-opacity="0.100"/>
<circle cx="246.8" cy="148.5" r="12.3" fill="#777777" stroke="#777777" stroke-width="1.2" fill-opacity="0.030" stroke-opacity="0.030"/>
<circle cx="258.0" cy="171.0" r="12.3" fill="#777777" stroke="#777777" stroke-width="1.2" fill-opacity="0.070" stroke-opacity="0.070"/>
<circle cx="262.6" cy="205.8" r="12.3" fill="#777777" stroke="#777777" stroke-width="1.2" fill-opacity="0.120" stroke-opacity="0.120"/>
<circle cx="230.0" cy="229.3" r="12.3" fill="#777777" stroke="#777777" stroke-width="1.2" fill-opacity="0.120" stroke-opacity="0.120"/>
<circle cx="222.1" cy="246.2" r="12.3" fill="#777777" stroke="#777777" stroke-width="1.2" fill-opacity="0.090" stroke-opacity="0.090"/>
<circle cx="142.8" cy="247.2" r="12.3" fill="#777777" stroke="#777777" stroke-width="1.2" fill-opacity="0.110" stroke-opacity="0.110"/>
<circle cx="204.0" cy="191.0" r="12.3" fill="#777777" stroke="#777777" stroke-width="1.2" fill-opacity="0.030" stroke-opacity="0.030"/>
<circle cx="190.0" cy="195.0" r="12.3" fill="#777777" stroke="#777777" stroke-width="1.2" fill-opacity="0.020" stroke-opacity="0.020"/>
<circle cx="402.1" cy="150.7" r="12.3" fill="#777777" stroke="#777777" stroke-width="1.2" fill-opacity="0.250" stroke-opacity="0.250"/>
<circle cx="281.9" cy="164.2" r="12.3" fill="#777777" stroke="#777777" stroke-width="1.2" fill-opacity="0.030" stroke-opacity="0.030"/>
<circle cx="357.1" cy="157.5" r="12.3" fill="#777777" stroke="#777777" stroke-width="1.2" fill-opacity="0.050" stroke-opacity="0.050"/>
<circle cx="381.8" cy="174.3" r="12.3" fill="#777777" stroke="#777777" stroke-width="1.2" fill-opacity="0.050" stroke-opacity="0.050"/>
<circle cx="323.4" cy="186.7" r="12.3" fill="#777777" stroke="#777777" stroke-width="1.2" fill-opacity="0.050" stroke-opacity="0.050"/>
<circle cx="331.3" cy="191.2" r="12.3" fill="#777777" stroke="#777777" stroke-width="1.2" fill-opacity="0.060" stroke-opacity="0.060"/>
<circle cx="381.8" cy="192.3" r="12.3" fill="#777777" stroke="#777777" stroke-width="1.2" fill-opacity="0.120" stroke-opacity="0.120"/>
<circle cx="397.1" cy="187.1" r="12.3" fill="#777777" stroke="#777777" stroke-width="1.2" fill-opacity="0.140" stroke-opacity="0.140"/>
<circle cx="322.3" cy="202.4" r="12.3" fill="#777777" stroke="#777777" stroke-width="1.2" fill-opacity="0.050" stroke-opacity="0.050"/>
<circle cx="363.9" cy="205.8" r="12.3" fill="#777777" stroke="#777777" stroke-width="1.2" fill-opacity="0.060" stroke-opacity="0.060"/>
<circle cx="415.5" cy="200.1" r="12.3" fill="#777777" stroke="#777777" stroke-width="1.2" fill-opacity="0.120" stroke-opacity="0.120"/>
<circle cx="333.5" cy="215.9" r="12.3" fill="#777777" stroke="#777777" stroke-width="1.2" fill-opacity="0.050" stroke-opacity="0.050"/>
<circle cx="393.1" cy="218.1" r="12.3" fill="#777777" stroke="#777777" stroke-width="1.2" fill-opacity="0.090" stroke-opacity="0.090"/>
<circle cx="408.8" cy="218.1" r="12.3" fill="#777777" stroke="#777777" stroke-width="1.2" fill-opacity="0.120" stroke-opacity="0.120"/>
<circle cx="323.4" cy="236.1" r="12.3" fill="#777777" stroke="#777777" stroke-width="1.2" fill-opacity="0.120" stroke-opacity="0.120"/>
<circle cx="340.3" cy="233.4" r="12.3" fill="#777777" stroke="#777777" stroke-width="1.2" fill-opacity="0.180" stroke-opacity="0.180"/>
<circle cx="367.2" cy="236.1" r="12.3" fill="#777777" stroke="#777777" stroke-width="1.2" fill-opacity="0.180" stroke-opacity="0.180"/>
<circle cx="303.2" cy="224.9" r="12.3" fill="#777777" stroke="#777777" stroke-width="1.2" fill-opacity="0.050" stroke-opacity="0.050"/>
<circle cx="345.9" cy="224.9" r="12.3" fill="#777777" stroke="#777777" stroke-width="1.2" fill-opacity="0.050" stroke-opacity="0.050"/>
<circle cx="390.8" cy="227.1" r="12.3" fill="#777777" stroke="#777777" stroke-width="1.2" fill-opacity="0.060" stroke-opacity="0.060"/>
<circle cx="408.8" cy="229.3" r="12.3" fill="#777777" stroke="#777777" stroke-width="1.2" fill-opacity="0.120" stroke-opacity="0.120"/>
<circle cx="333.5" cy="258.6" r="12.3" fill="#777777" stroke="#777777" stroke-width="1.2" fill-opacity="0.120" stroke-opacity="0.120"/>
<circle cx="352.6" cy="254.0" r="12.3" fill="#777777" stroke="#777777" stroke-width="1.2" fill-opacity="0.060" stroke-opacity="0.060"/>
<circle cx="370.6" cy="258.6" r="12.3" fill="#777777" stroke="#777777" stroke-width="1.2" fill-opacity="0.150" stroke-opacity="0.150"/>
<circle cx="408.8" cy="254.0" r="12.3" fill="#777777" stroke="#777777" stroke-width="1.2" fill-opacity="0.120" stroke-opacity="0.120"/>
<circle cx="281.0" cy="276.0" r="12.3" fill="#777777" stroke="#777777" stroke-width="1.2" fill-opacity="0.200" stroke-opacity="0.200"/>
<circle cx="459.6" cy="144.0" r="12.3" fill="#777777" stroke="#777777" stroke-width="1.2" fill-opacity="0.120" stroke-opacity="0.120"/>
<circle cx="433.7" cy="165.3" r="12.3" fill="#777777" stroke="#777777" stroke-width="1.2" fill-opacity="0.150" stroke-opacity="0.150"/>
<circle cx="455.1" cy="181.0" r="12.3" fill="#777777" stroke="#777777" stroke-width="1.2" fill-opacity="0.120" stroke-opacity="0.120"/>
<circle cx="474.2" cy="180.6" r="12.3" fill="#777777" stroke="#777777" stroke-width="1.2" fill-opacity="0.200" stroke-opacity="0.200"/>
<circle cx="425.9" cy="201.3" r="12.3" fill="#777777" stroke="#777777" stroke-width="1.2" fill-opacity="0.150" stroke-opacity="0.150"/>
<circle cx="458.4" cy="203.5" r="12.3" fill="#777777" stroke="#777777" stroke-width="1.2" fill-opacity="0.120" stroke-opacity="0.120"/>
<circle cx="488.8" cy="212.5" r="12.3" fill="#777777" stroke="#777777" stroke-width="1.2" fill-opacity="0.080" stroke-opacity="0.080"/>
<circle cx="501.1" cy="197.9" r="12.3" fill="#777777" stroke="#777777" stroke-width="1.2" fill-opacity="0.050" stroke-opacity="0.050"/>
<circle cx="530.3" cy="187.8" r="12.3" fill="#777777" stroke="#777777" stroke-width="1.2" fill-opacity="0.120" stroke-opacity="0.120"/>
<circle cx="528.1" cy="202.4" r="12.3" fill="#777777" stroke="#777777" stroke-width="1.2" fill-opacity="0.090" stroke-opacity="0.090"/>
<circle cx="516.9" cy="231.6" r="12.3" fill="#777777" stroke="#777777" stroke-width="1.2" fill-opacity="0.120" stroke-opacity="0.120"/>
<circle cx="464.1" cy="228.2" r="12.3" fill="#777777" stroke="#777777" stroke-width="1.2" fill-opacity="0.150" stroke-opacity="0.150"/>
<circle cx="475.3" cy="249.6" r="12.3" fill="#777777" stroke="#777777" stroke-width="1.2" fill-opacity="0.250" stroke-opacity="0.250"/>
<circle cx="420.2" cy="256.3" r="12.3" fill="#777777" stroke="#777777" stroke-width="1.2" fill-opacity="0.200" stroke-opacity="0.200"/>
<circle cx="438.2" cy="236.1" r="12.3" fill="#777777" stroke="#777777" stroke-width="1.2" fill-opacity="0.050" stroke-opacity="0.050"/>
<circle cx="456.2" cy="260.8" r="12.3" fill="#777777" stroke="#777777" stroke-width="1.2" fill-opacity="0.060" stroke-opacity="0.060"/>
<circle cx="478.7" cy="263.0" r="12.3" fill="#777777" stroke="#777777" stroke-width="1.2" fill-opacity="0.120" stroke-opacity="0.120"/>
<circle cx="537.1" cy="131.6" r="12.3" fill="#777777" stroke="#777777" stroke-width="1.2" fill-opacity="0.120" stroke-opacity="0.120"/>
<circle cx="512.4" cy="148.5" r="12.3" fill="#777777" stroke="#777777" stroke-width="1.2" fill-opacity="0.050" stroke-opacity="0.050"/>
<circle cx="546.1" cy="157.5" r="12.3" fill="#777777" stroke="#777777" stroke-width="1.2" fill-opacity="0.050" stroke-opacity="0.050"/>
<circle cx="528.1" cy="177.7" r="12.3" fill="#777777" stroke="#777777" stroke-width="1.2" fill-opacity="0.050" stroke-opacity="0.050"/>
<circle cx="431.5" cy="126.0" r="12.3" fill="#777777" stroke="#777777" stroke-width="1.2" fill-opacity="0.050" stroke-opacity="0.050"/>
<circle cx="474.2" cy="126.0" r="12.3" fill="#777777" stroke="#777777" stroke-width="1.2" fill-opacity="0.040" stroke-opacity="0.040"/>
<circle cx="507.9" cy="260.8" r="12.3" fill="#777777" stroke="#777777" stroke-width="1.2" fill-opacity="0.050" stroke-opacity="0.050"/>
<circle cx="539.3" cy="245.1" r="12.3" fill="#777777" stroke="#777777" stroke-width="1.2" fill-opacity="0.040" stroke-opacity="0.040"/>
<circle cx="188.0" cy="289.2" r="12.3" fill="#777777" stroke="#777777" stroke-width="1.2" fill-opacity="0.090" stroke-opacity="0.090"/>
<circle cx="152.5" cy="302.7" r="12.3" fill="#777777" stroke="#777777" stroke-width="1.2" fill-opacity="0.050" stroke-opacity="0.050"/>
<circle cx="223.2" cy="280.2" r="12.3" fill="#777777" stroke="#777777" stroke-width="1.2" fill-opacity="0.050" stroke-opacity="0.050"/>
<circle cx="232.2" cy="299.3" r="12.3" fill="#777777" stroke="#777777" stroke-width="1.2" fill-opacity="0.070" stroke-opacity="0.070"/>
<circle cx="253.6" cy="275.7" r="12.3" fill="#777777" stroke="#777777" stroke-width="1.2" fill-opacity="0.050" stroke-opacity="0.050"/>
<circle cx="150.2" cy="330.8" r="12.3" fill="#777777" stroke="#777777" stroke-width="1.2" fill-opacity="0.090" stroke-opacity="0.090"/>
<circle cx="185.0" cy="319.5" r="12.3" fill="#777777" stroke="#777777" stroke-width="1.2" fill-opacity="0.050" stroke-opacity="0.050"/>
<circle cx="199.6" cy="319.5" r="12.3" fill="#777777" stroke="#777777" stroke-width="1.2" fill-opacity="0.050" stroke-opacity="0.050"/>
<circle cx="195.2" cy="338.6" r="12.3" fill="#777777" stroke="#777777" stroke-width="1.2" fill-opacity="0.060" stroke-opacity="0.060"/>
<circle cx="222.1" cy="337.5" r="12.3" fill="#777777" stroke="#777777" stroke-width="1.2" fill-opacity="0.150" stroke-opacity="0.150"/>
<circle cx="237.8" cy="328.5" r="12.3" fill="#777777" stroke="#777777" stroke-width="1.2" fill-opacity="0.060" stroke-opacity="0.060"/>
<circle cx="253.6" cy="321.8" r="12.3" fill="#777777" stroke="#777777" stroke-width="1.2" fill-opacity="0.200" stroke-opacity="0.200"/>
<circle cx="226.6" cy="348.8" r="12.3" fill="#777777" stroke="#777777" stroke-width="1.2" fill-opacity="0.090" stroke-opacity="0.090"/>
<circle cx="205.3" cy="356.6" r="12.3" fill="#777777" stroke="#777777" stroke-width="1.2" fill-opacity="0.090" stroke-opacity="0.090"/>
<circle cx="146.9" cy="363.4" r="12.3" fill="#777777" stroke="#777777" stroke-width="1.2" fill-opacity="0.090" stroke-opacity="0.090"/>
<circle cx="154.7" cy="361.1" r="12.3" fill="#777777" stroke="#777777" stroke-width="1.2" fill-opacity="0.060" stroke-opacity="0.060"/>
<circle cx="181.7" cy="380.2" r="12.3" fill="#777777" stroke="#777777" stroke-width="1.2" fill-opacity="0.060" stroke-opacity="0.060"/>
<circle cx="157.0" cy="388.1" r="12.3" fill="#777777" stroke="#777777" stroke-width="1.2" fill-opacity="0.030" stroke-opacity="0.030"/>
<circle cx="218.7" cy="382.5" r="12.3" fill="#777777" stroke="#777777" stroke-width="1.2" fill-opacity="0.120" stroke-opacity="0.120"/>
<circle cx="225.5" cy="400.4" r="12.3" fill="#777777" stroke="#777777" stroke-width="1.2" fill-opacity="0.180" stroke-opacity="0.180"/>
<circle cx="178.0" cy="415.0" r="12.3" fill="#777777" stroke="#777777" stroke-width="1.2" fill-opacity="0.300" stroke-opacity="0.300"/>
<circle cx="141.2" cy="409.4" r="12.3" fill="#777777" stroke="#777777" stroke-width="1.2" fill-opacity="0.050" stroke-opacity="0.050"/>
<circle cx="253.6" cy="381.3" r="12.3" fill="#777777" stroke="#777777" stroke-width="1.2" fill-opacity="0.120" stroke-opacity="0.120"/>
<circle cx="233.3" cy="365.6" r="12.3" fill="#777777" stroke="#777777" stroke-width="1.2" fill-opacity="0.060" stroke-opacity="0.060"/>
<circle cx="262.6" cy="327.4" r="12.3" fill="#777777" stroke="#777777" stroke-width="1.2" fill-opacity="0.120" stroke-opacity="0.120"/>
<circle cx="255.8" cy="394.8" r="12.3" fill="#777777" stroke="#777777" stroke-width="1.2" fill-opacity="0.120" stroke-opacity="0.120"/>
<circle cx="269.3" cy="399.3" r="12.3" fill="#777777" stroke="#777777" stroke-width="1.2" fill-opacity="0.250" stroke-opacity="0.250"/>
<circle cx="477.5" cy="271.2" r="12.3" fill="#777777" stroke="#777777" stroke-width="1.2" fill-opacity="0.200" stroke-opacity="0.200"/>
<circle cx="454.0" cy="276.9" r="12.3" fill="#777777" stroke="#777777" stroke-width="1.2" fill-opacity="0.120" stroke-opacity="0.120"/>
<circle cx="425.9" cy="285.8" r="12.3" fill="#777777" stroke="#777777" stroke-width="1.2" fill-opacity="0.200" stroke-opacity="0.200"/>
<circle cx="440.5" cy="300.5" r="12.3" fill="#777777" stroke="#777777" stroke-width="1.2" fill-opacity="0.200" stroke-opacity="0.200"/>
<circle cx="451.7" cy="307.2" r="12.3" fill="#777777" stroke="#777777" stroke-width="1.2" fill-opacity="0.090" stroke-opacity="0.090"/>
<circle cx="433.7" cy="329.7" r="12.3" fill="#777777" stroke="#777777" stroke-width="1.2" fill-opacity="0.220" stroke-opacity="0.220"/>
<circle cx="442.7" cy="338.6" r="12.3" fill="#777777" stroke="#777777" stroke-width="1.2" fill-opacity="0.200" stroke-opacity="0.200"/>
<circle cx="423.6" cy="338.6" r="12.3" fill="#777777" stroke="#777777" stroke-width="1.2" fill-opacity="0.120" stroke-opacity="0.120"/>
<circle cx="478.7" cy="298.2" r="12.3" fill="#777777" stroke="#777777" stroke-width="1.2" fill-opacity="0.050" stroke-opacity="0.050"/>
<circle cx="494.4" cy="298.2" r="12.3" fill="#777777" stroke="#777777" stroke-width="1.2" fill-opacity="0.060" stroke-opacity="0.060"/>
<circle cx="489.9" cy="322.9" r="12.3" fill="#777777" stroke="#777777" stroke-width="1.2" fill-opacity="0.090" stroke-opacity="0.090"/>
<circle cx="474.2" cy="318.4" r="12.3" fill="#777777" stroke="#777777" stroke-width="1.2" fill-opacity="0.050" stroke-opacity="0.050"/>
<circle cx="527.0" cy="309.4" r="12.3" fill="#777777" stroke="#777777" stroke-width="1.2" fill-opacity="0.120" stroke-opacity="0.120"/>
<circle cx="529.2" cy="326.3" r="12.3" fill="#777777" stroke="#777777" stroke-width="1.2" fill-opacity="0.120" stroke-opacity="0.120"/>
<circle cx="506.7" cy="273.5" r="12.3" fill="#777777" stroke="#777777" stroke-width="1.2" fill-opacity="0.060" stroke-opacity="0.060"/>
<circle cx="539.3" cy="271.2" r="12.3" fill="#777777" stroke="#777777" stroke-width="1.2" fill-opacity="0.030" stroke-opacity="0.030"/>
<circle cx="460.7" cy="348.8" r="12.3" fill="#777777" stroke="#777777" stroke-width="1.2" fill-opacity="0.060" stroke-opacity="0.060"/>
<circle cx="487.6" cy="346.5" r="12.3" fill="#777777" stroke="#777777" stroke-width="1.2" fill-opacity="0.050" stroke-opacity="0.050"/>
<circle cx="552.8" cy="346.5" r="12.3" fill="#777777" stroke="#777777" stroke-width="1.2" fill-opacity="0.050" stroke-opacity="0.050"/>
<circle cx="525.8" cy="365.6" r="12.3" fill="#777777" stroke="#777777" stroke-width="1.2" fill-opacity="0.100" stroke-opacity="0.100"/>
<circle cx="456.2" cy="372.3" r="12.3" fill="#777777" stroke="#777777" stroke-width="1.2" fill-opacity="0.060" stroke-opacity="0.060"/>
<circle cx="467.4" cy="372.3" r="12.3" fill="#777777" stroke="#777777" stroke-width="1.2" fill-opacity="0.060" stroke-opacity="0.060"/>
<circle cx="548.3" cy="370.1" r="12.3" fill="#777777" stroke="#777777" stroke-width="1.2" fill-opacity="0.030" stroke-opacity="0.030"/>
<circle cx="498.9" cy="382.5" r="12.3" fill="#777777" stroke="#777777" stroke-width="1.2" fill-opacity="0.050" stroke-opacity="0.050"/>
<circle cx="438.2" cy="403.8" r="12.3" fill="#777777" stroke="#777777" stroke-width="1.2" fill-opacity="0.100" stroke-opacity="0.100"/>
<circle cx="423.6" cy="390.3" r="12.3" fill="#777777" stroke="#777777" stroke-width="1.2" fill-opacity="0.050" stroke-opacity="0.050"/>
<circle cx="153.7" cy="442.5" r="12.3" fill="#777777" stroke="#777777" stroke-width="1.2" fill-opacity="0.080" stroke-opacity="0.080"/>
<circle cx="145.8" cy="460.6" r="12.3" fill="#777777" stroke="#777777" stroke-width="1.2" fill-opacity="0.120" stroke-opacity="0.120"/>
<circle cx="157.1" cy="473.0" r="12.3" fill="#777777" stroke="#777777" stroke-width="1.2" fill-opacity="0.050" stroke-opacity="0.050"/>
<circle cx="202.3" cy="475.3" r="12.3" fill="#777777" stroke="#777777" stroke-width="1.2" fill-opacity="0.220" stroke-opacity="0.220"/>
<circle cx="209.1" cy="448.2" r="12.3" fill="#777777" stroke="#777777" stroke-width="1.2" fill-opacity="0.050" stroke-opacity="0.050"/>
<circle cx="193.3" cy="461.7" r="12.3" fill="#777777" stroke="#777777" stroke-width="1.2" fill-opacity="0.050" stroke-opacity="0.050"/>
<circle cx="226.1" cy="433.5" r="12.3" fill="#777777" stroke="#777777" stroke-width="1.2" fill-opacity="0.120" stroke-opacity="0.120"/>
<circle cx="247.5" cy="434.6" r="12.3" fill="#777777" stroke="#777777" stroke-width="1.2" fill-opacity="0.120" stroke-opacity="0.120"/>
<circle cx="229.5" cy="443.6" r="12.3" fill="#777777" stroke="#777777" stroke-width="1.2" fill-opacity="0.080" stroke-opacity="0.080"/>
<circle cx="261.1" cy="465.1" r="12.3" fill="#777777" stroke="#777777" stroke-width="1.2" fill-opacity="0.120" stroke-opacity="0.120"/>
<circle cx="265.6" cy="479.8" r="12.3" fill="#777777" stroke="#777777" stroke-width="1.2" fill-opacity="0.060" stroke-opacity="0.060"/>
<circle cx="224.9" cy="473.0" r="12.3" fill="#777777" stroke="#777777" stroke-width="1.2" fill-opacity="0.060" stroke-opacity="0.060"/>
<circle cx="234.0" cy="488.9" r="12.3" fill="#777777" stroke="#777777" stroke-width="1.2" fill-opacity="0.060" stroke-opacity="0.060"/>
<circle cx="200.1" cy="500.2" r="12.3" fill="#777777" stroke="#777777" stroke-width="1.2" fill-opacity="0.120" stroke-opacity="0.120"/>
<circle cx="211.4" cy="509.2" r="12.3" fill="#777777" stroke="#777777" stroke-width="1.2" fill-opacity="0.060" stroke-opacity="0.060"/>
<circle cx="148.1" cy="506.9" r="12.3" fill="#777777" stroke="#777777" stroke-width="1.2" fill-opacity="0.030" stroke-opacity="0.030"/>
<circle cx="170.7" cy="539.7" r="12.3" fill="#777777" stroke="#777777" stroke-width="1.2" fill-opacity="0.120" stroke-opacity="0.120"/>
<circle cx="141.3" cy="545.4" r="12.3" fill="#777777" stroke="#777777" stroke-width="1.2" fill-opacity="0.060" stroke-opacity="0.060"/>
<circle cx="245.3" cy="535.2" r="12.3" fill="#777777" stroke="#777777" stroke-width="1.2" fill-opacity="0.030" stroke-opacity="0.030"/>
<circle cx="270.1" cy="509.2" r="12.3" fill="#777777" stroke="#777777" stroke-width="1.2" fill-opacity="0.060" stroke-opacity="0.060"/>
<circle cx="139.0" cy="418.8" r="12.3" fill="#777777" stroke="#777777" stroke-width="1.2" fill-opacity="0.050" stroke-opacity="0.050"/>
<circle cx="265.6" cy="416.5" r="12.3" fill="#777777" stroke="#777777" stroke-width="1.2" fill-opacity="0.120" stroke-opacity="0.120"/>
<circle cx="287.6" cy="539.5" r="12.3" fill="#777777" stroke="#777777" stroke-width="1.2" fill-opacity="0.350" stroke-opacity="0.350"/>
<circle cx="437.2" cy="432.3" r="12.3" fill="#777777" stroke="#777777" stroke-width="1.2" fill-opacity="0.120" stroke-opacity="0.120"/>
<circle cx="433.8" cy="412.0" r="12.3" fill="#777777" stroke="#777777" stroke-width="1.2" fill-opacity="0.100" stroke-opacity="0.100"/>
<circle cx="483.6" cy="414.3" r="12.3" fill="#777777" stroke="#777777" stroke-width="1.2" fill-opacity="0.050" stroke-opacity="0.050"/>
<circle cx="427.0" cy="547.6" r="12.3" fill="#777777" stroke="#777777" stroke-width="1.2" fill-opacity="0.100" stroke-opacity="0.100"/>
<circle cx="303.2" cy="381.3" r="12.3" fill="#777777" stroke="#777777" stroke-width="1.2" fill-opacity="0.300" stroke-opacity="0.300"/>
<circle cx="363.9" cy="275.7" r="12.3" fill="#777777" stroke="#777777" stroke-width="1.2" fill-opacity="0.200" stroke-opacity="0.200"/>
<circle cx="363.9" cy="343.1" r="12.3" fill="#777777" stroke="#777777" stroke-width="1.2" fill-opacity="0.150" stroke-opacity="0.150"/>
<circle cx="350.4" cy="361.1" r="12.3" fill="#777777" stroke="#777777" stroke-width="1.2" fill-opacity="0.150" stroke-opacity="0.150"/>
<circle cx="398.7" cy="399.3" r="12.3" fill="#777777" stroke="#777777" stroke-width="1.2" fill-opacity="0.200" stroke-opacity="0.200"/>
<circle cx="359.4" cy="394.8" r="12.3" fill="#777777" stroke="#777777" stroke-width="1.2" fill-opacity="0.100" stroke-opacity="0.100"/>
<circle cx="381.8" cy="374.6" r="12.3" fill="#777777" stroke="#777777" stroke-width="1.2" fill-opacity="0.060" stroke-opacity="0.060"/>
<circle cx="408.8" cy="340.9" r="12.3" fill="#777777" stroke="#777777" stroke-width="1.2" fill-opacity="0.060" stroke-opacity="0.060"/>
<circle cx="404.3" cy="372.3" r="12.3" fill="#777777" stroke="#777777" stroke-width="1.2" fill-opacity="0.060" stroke-opacity="0.060"/>
<circle cx="280.7" cy="397.1" r="12.3" fill="#777777" stroke="#777777" stroke-width="1.2" fill-opacity="0.120" stroke-opacity="0.120"/>
<circle cx="323.4" cy="397.1" r="12.3" fill="#777777" stroke="#777777" stroke-width="1.2" fill-opacity="0.060" stroke-opacity="0.060"/>
<circle cx="301.0" cy="293.7" r="12.3" fill="#777777" stroke="#777777" stroke-width="1.2" fill-opacity="0.060" stroke-opacity="0.060"/>
<circle cx="552.8" cy="205.8" r="12.3" fill="#777777" stroke="#777777" stroke-width="1.2" fill-opacity="0.850" stroke-opacity="0.850"/>
<circle cx="395.4" cy="310.0" r="12.3" fill="#E24A33" stroke="#E24A33" stroke-width="1.2" fill-opacity="0.102" stroke-opacity="0.102"/>
<circle cx="377.8" cy="290.8" r="12.3" fill="#E24A33" stroke="#E24A33" stroke-width="1.2" fill-opacity="0.079" stroke-opacity="0.079"/>
<circle cx="420.0" cy="338.5" r="12.3" fill="#E24A33" stroke="#E24A33" stroke-width="1.2" fill-opacity="0.118" stroke-opacity="0.118"/>
<circle cx="387.1" cy="338.9" r="12.3" fill="#E24A33" stroke="#E24A33" stroke-width="1.2" fill-opacity="0.067" stroke-opacity="0.067"/>
<circle cx="386.2" cy="301.3" r="12.3" fill="#E24A33" stroke="#E24A33" stroke-width="1.2" fill-opacity="0.067" stroke-opacity="0.067"/>
<circle cx="377.9" cy="321.7" r="12.3" fill="#E24A33" stroke="#E24A33" stroke-width="1.2" fill-opacity="0.054" stroke-opacity="0.054"/>
<circle cx="398.5" cy="325.9" r="12.3" fill="#E24A33" stroke="#E24A33" stroke-width="1.2" fill-opacity="0.081" stroke-opacity="0.081"/>
<circle cx="392.1" cy="306.7" r="12.3" fill="#E24A33" stroke="#E24A33" stroke-width="1.2" fill-opacity="0.092" stroke-opacity="0.092"/>
<circle cx="410.4" cy="304.9" r="12.3" fill="#E24A33" stroke="#E24A33" stroke-width="1.2" fill-opacity="0.092" stroke-opacity="0.092"/>
<circle cx="390.0" cy="327.5" r="12.3" fill="#E24A33" stroke="#E24A33" stroke-width="1.2" fill-opacity="0.101" stroke-opacity="0.101"/>
<circle cx="379.0" cy="304.1" r="12.3" fill="#E24A33" stroke="#E24A33" stroke-width="1.2" fill-opacity="0.141" stroke-opacity="0.141"/>
<circle cx="345.6" cy="278.4" r="12.3" fill="#E24A33" stroke="#E24A33" stroke-width="1.2" fill-opacity="0.081" stroke-opacity="0.081"/>
<circle cx="356.3" cy="306.4" r="12.3" fill="#E24A33" stroke="#E24A33" stroke-width="1.2" fill-opacity="0.141" stroke-opacity="0.141"/>
<circle cx="350.2" cy="319.2" r="12.3" fill="#E24A33" stroke="#E24A33" stroke-width="1.2" fill-opacity="0.159" stroke-opacity="0.159"/>
<circle cx="358.5" cy="320.2" r="12.3" fill="#E24A33" stroke="#E24A33" stroke-width="1.2" fill-opacity="0.135" stroke-opacity="0.135"/>
<circle cx="388.6" cy="290.9" r="12.3" fill="#E24A33" stroke="#E24A33" stroke-width="1.2" fill-opacity="0.097" stroke-opacity="0.097"/>
<circle cx="403.5" cy="321.0" r="12.3" fill="#E24A33" stroke="#E24A33" stroke-width="1.2" fill-opacity="0.068" stroke-opacity="0.068"/>
<circle cx="392.3" cy="311.6" r="12.3" fill="#E24A33" stroke="#E24A33" stroke-width="1.2" fill-opacity="0.108" stroke-opacity="0.108"/>
<circle cx="363.3" cy="286.1" r="12.3" fill="#E24A33" stroke="#E24A33" stroke-width="1.2" fill-opacity="0.138" stroke-opacity="0.138"/>
<circle cx="382.3" cy="305.7" r="12.3" fill="#E24A33" stroke="#E24A33" stroke-width="1.2" fill-opacity="0.126" stroke-opacity="0.126"/>
<circle cx="384.8" cy="307.5" r="12.3" fill="#E24A33" stroke="#E24A33" stroke-width="1.2" fill-opacity="0.132" stroke-opacity="0.132"/>
<circle cx="364.4" cy="286.2" r="12.3" fill="#E24A33" stroke="#E24A33" stroke-width="1.2" fill-opacity="0.074" stroke-opacity="0.074"/>
<circle cx="349.8" cy="322.6" r="12.3" fill="#E24A33" stroke="#E24A33" stroke-width="1.2" fill-opacity="0.097" stroke-opacity="0.097"/>
<circle cx="393.3" cy="319.0" r="12.3" fill="#E24A33" stroke="#E24A33" stroke-width="1.2" fill-opacity="0.117" stroke-opacity="0.117"/>
<circle cx="411.4" cy="279.1" r="12.3" fill="#E24A33" stroke="#E24A33" stroke-width="1.2" fill-opacity="0.151" stroke-opacity="0.151"/>
<circle cx="336.6" cy="312.3" r="12.3" fill="#E24A33" stroke="#E24A33" stroke-width="1.2" fill-opacity="0.090" stroke-opacity="0.090"/>
<circle cx="361.7" cy="316.6" r="12.3" fill="#E24A33" stroke="#E24A33" stroke-width="1.2" fill-opacity="0.153" stroke-opacity="0.153"/>
<circle cx="381.9" cy="291.6" r="12.3" fill="#E24A33" stroke="#E24A33" stroke-width="1.2" fill-opacity="0.096" stroke-opacity="0.096"/>
<circle cx="357.4" cy="312.8" r="12.3" fill="#E24A33" stroke="#E24A33" stroke-width="1.2" fill-opacity="0.100" stroke-opacity="0.100"/>
<circle cx="360.0" cy="307.7" r="12.3" fill="#E24A33" stroke="#E24A33" stroke-width="1.2" fill-opacity="0.116" stroke-opacity="0.116"/>
<circle cx="377.3" cy="278.5" r="12.3" fill="#E24A33" stroke="#E24A33" stroke-width="1.2" fill-opacity="0.144" stroke-opacity="0.144"/>
<circle cx="358.5" cy="295.7" r="12.3" fill="#E24A33" stroke="#E24A33" stroke-width="1.2" fill-opacity="0.136" stroke-opacity="0.136"/>
<circle cx="381.9" cy="290.0" r="12.3" fill="#E24A33" stroke="#E24A33" stroke-width="1.2" fill-opacity="0.062" stroke-opacity="0.062"/>
<circle cx="345.1" cy="297.8" r="12.3" fill="#E24A33" stroke="#E24A33" stroke-width="1.2" fill-opacity="0.117" stroke-opacity="0.117"/>
<circle cx="398.4" cy="294.5" r="12.3" fill="#E24A33" stroke="#E24A33" stroke-width="1.2" fill-opacity="0.140" stroke-opacity="0.140"/>
<circle cx="393.2" cy="308.9" r="12.3" fill="#E24A33" stroke="#E24A33" stroke-width="1.2" fill-opacity="0.139" stroke-opacity="0.139"/>
<circle cx="377.1" cy="303.7" r="12.3" fill="#E24A33" stroke="#E24A33" stroke-width="1.2" fill-opacity="0.134" stroke-opacity="0.134"/>
<circle cx="376.8" cy="295.5" r="12.3" fill="#E24A33" stroke="#E24A33" stroke-width="1.2" fill-opacity="0.123" stroke-opacity="0.123"/>
<circle cx="390.5" cy="323.4" r="12.3" fill="#E24A33" stroke="#E24A33" stroke-width="1.2" fill-opacity="0.125" stroke-opacity="0.125"/>
<circle cx="370.4" cy="312.7" r="12.3" fill="#E24A33" stroke="#E24A33" stroke-width="1.2" fill-opacity="0.137" stroke-opacity="0.137"/>
<circle cx="257.0" cy="254.0" r="12.3" fill="#E24A33" stroke="#E24A33" stroke-width="1.2" fill-opacity="0.060" stroke-opacity="0.060"/>
<circle cx="273.8" cy="231.6" r="12.3" fill="#E24A33" stroke="#E24A33" stroke-width="1.2" fill-opacity="0.050" stroke-opacity="0.050"/>
<circle cx="283.0" cy="233.8" r="12.3" fill="#E24A33" stroke="#E24A33" stroke-width="1.2" fill-opacity="0.060" stroke-opacity="0.060"/>
<circle cx="303.2" cy="242.8" r="12.3" fill="#E24A33" stroke="#E24A33" stroke-width="1.2" fill-opacity="0.060" stroke-opacity="0.060"/>
<circle cx="304.3" cy="254.0" r="12.3" fill="#E24A33" stroke="#E24A33" stroke-width="1.2" fill-opacity="0.080" stroke-opacity="0.080"/>
<circle cx="279.5" cy="262.5" r="12.3" fill="#E24A33" stroke="#E24A33" stroke-width="1.2" fill-opacity="0.300" stroke-opacity="0.300"/>
<circle cx="396.4" cy="254.0" r="12.3" fill="#E24A33" stroke="#E24A33" stroke-width="1.2" fill-opacity="0.150" stroke-opacity="0.150"/>
<circle cx="399.8" cy="263.0" r="12.3" fill="#E24A33" stroke="#E24A33" stroke-width="1.2" fill-opacity="0.150" stroke-opacity="0.150"/>
<circle cx="368.4" cy="267.5" r="12.3" fill="#E24A33" stroke="#E24A33" stroke-width="1.2" fill-opacity="0.200" stroke-opacity="0.200"/>
<circle cx="252.4" cy="285.8" r="12.3" fill="#E24A33" stroke="#E24A33" stroke-width="1.2" fill-opacity="0.120" stroke-opacity="0.120"/>
<circle cx="420.2" cy="290.0" r="12.3" fill="#E24A33" stroke="#E24A33" stroke-width="1.2" fill-opacity="0.100" stroke-opacity="0.100"/>
<circle cx="422.0" cy="300.0" r="12.3" fill="#E24A33" stroke="#E24A33" stroke-width="1.2" fill-opacity="0.080" stroke-opacity="0.080"/>
<circle cx="345.9" cy="302.7" r="12.3" fill="#E24A33" stroke="#E24A33" stroke-width="1.2" fill-opacity="0.300" stroke-opacity="0.300"/>
<circle cx="341.4" cy="320.7" r="12.3" fill="#E24A33" stroke="#E24A33" stroke-width="1.2" fill-opacity="0.300" stroke-opacity="0.300"/>
<circle cx="361.6" cy="322.9" r="12.3" fill="#E24A33" stroke="#E24A33" stroke-width="1.2" fill-opacity="0.300" stroke-opacity="0.300"/>
<circle cx="389.7" cy="298.2" r="12.3" fill="#E24A33" stroke="#E24A33" stroke-width="1.2" fill-opacity="0.150" stroke-opacity="0.150"/>
<circle cx="390.8" cy="316.2" r="12.3" fill="#E24A33" stroke="#E24A33" stroke-width="1.2" fill-opacity="0.150" stroke-opacity="0.150"/>
<circle cx="366.1" cy="278.0" r="12.3" fill="#E24A33" stroke="#E24A33" stroke-width="1.2" fill-opacity="0.200" stroke-opacity="0.200"/>
<circle cx="388.6" cy="280.2" r="12.3" fill="#E24A33" stroke="#E24A33" stroke-width="1.2" fill-opacity="0.120" stroke-opacity="0.120"/>
<circle cx="332.4" cy="293.7" r="12.3" fill="#E24A33" stroke="#E24A33" stroke-width="1.2" fill-opacity="0.120" stroke-opacity="0.120"/>
<circle cx="280.7" cy="273.5" r="12.3" fill="#E24A33" stroke="#E24A33" stroke-width="1.2" fill-opacity="0.100" stroke-opacity="0.100"/>
<circle cx="365.7" cy="303.8" r="12.3" fill="#E24A33" stroke="#E24A33" stroke-width="1.2" fill-opacity="0.900" stroke-opacity="0.900"/>
<circle cx="315.6" cy="389.7" r="12.3" fill="#348ABD" stroke="#348ABD" stroke-width="1.2" fill-opacity="0.072" stroke-opacity="0.072"/>
<circle cx="280.4" cy="353.9" r="12.3" fill="#348ABD" stroke="#348ABD" stroke-width="1.2" fill-opacity="0.081" stroke-opacity="0.081"/>
<circle cx="327.0" cy="368.8" r="12.3" fill="#348ABD" stroke="#348ABD" stroke-width="1.2" fill-opacity="0.059" stroke-opacity="0.059"/>
<circle cx="296.7" cy="373.0" r="12.3" fill="#348ABD" stroke="#348ABD" stroke-width="1.2" fill-opacity="0.113" stroke-opacity="0.113"/>
<circle cx="305.8" cy="381.9" r="12.3" fill="#348ABD" stroke="#348ABD" stroke-width="1.2" fill-opacity="0.057" stroke-opacity="0.057"/>
<circle cx="310.5" cy="403.9" r="12.3" fill="#348ABD" stroke="#348ABD" stroke-width="1.2" fill-opacity="0.063" stroke-opacity="0.063"/>
<circle cx="324.3" cy="410.4" r="12.3" fill="#348ABD" stroke="#348ABD" stroke-width="1.2" fill-opacity="0.120" stroke-opacity="0.120"/>
<circle cx="312.3" cy="373.9" r="12.3" fill="#348ABD" stroke="#348ABD" stroke-width="1.2" fill-opacity="0.083" stroke-opacity="0.083"/>
<circle cx="347.1" cy="371.1" r="12.3" fill="#348ABD" stroke="#348ABD" stroke-width="1.2" fill-opacity="0.064" stroke-opacity="0.064"/>
<circle cx="283.2" cy="386.6" r="12.3" fill="#348ABD" stroke="#348ABD" stroke-width="1.2" fill-opacity="0.071" stroke-opacity="0.071"/>
<circle cx="241.7" cy="385.3" r="12.3" fill="#348ABD" stroke="#348ABD" stroke-width="1.2" fill-opacity="0.118" stroke-opacity="0.118"/>
<circle cx="352.5" cy="390.8" r="12.3" fill="#348ABD" stroke="#348ABD" stroke-width="1.2" fill-opacity="0.072" stroke-opacity="0.072"/>
<circle cx="279.4" cy="399.6" r="12.3" fill="#348ABD" stroke="#348ABD" stroke-width="1.2" fill-opacity="0.053" stroke-opacity="0.053"/>
<circle cx="336.3" cy="369.2" r="12.3" fill="#348ABD" stroke="#348ABD" stroke-width="1.2" fill-opacity="0.078" stroke-opacity="0.078"/>
<circle cx="293.3" cy="396.8" r="12.3" fill="#348ABD" stroke="#348ABD" stroke-width="1.2" fill-opacity="0.054" stroke-opacity="0.054"/>
<circle cx="300.8" cy="384.9" r="12.3" fill="#348ABD" stroke="#348ABD" stroke-width="1.2" fill-opacity="0.067" stroke-opacity="0.067"/>
<circle cx="303.4" cy="378.1" r="12.3" fill="#348ABD" stroke="#348ABD" stroke-width="1.2" fill-opacity="0.088" stroke-opacity="0.088"/>
<circle cx="250.6" cy="372.7" r="12.3" fill="#348ABD" stroke="#348ABD" stroke-width="1.2" fill-opacity="0.057" stroke-opacity="0.057"/>
<circle cx="268.0" cy="296.5" r="12.3" fill="#348ABD" stroke="#348ABD" stroke-width="1.2" fill-opacity="0.085" stroke-opacity="0.085"/>
<circle cx="295.0" cy="339.7" r="12.3" fill="#348ABD" stroke="#348ABD" stroke-width="1.2" fill-opacity="0.150" stroke-opacity="0.150"/>
<circle cx="338.4" cy="342.3" r="12.3" fill="#348ABD" stroke="#348ABD" stroke-width="1.2" fill-opacity="0.160" stroke-opacity="0.160"/>
<circle cx="308.3" cy="334.9" r="12.3" fill="#348ABD" stroke="#348ABD" stroke-width="1.2" fill-opacity="0.085" stroke-opacity="0.085"/>
<circle cx="303.3" cy="333.6" r="12.3" fill="#348ABD" stroke="#348ABD" stroke-width="1.2" fill-opacity="0.112" stroke-opacity="0.112"/>
<circle cx="261.0" cy="351.3" r="12.3" fill="#348ABD" stroke="#348ABD" stroke-width="1.2" fill-opacity="0.126" stroke-opacity="0.126"/>
<circle cx="314.6" cy="329.4" r="12.3" fill="#348ABD" stroke="#348ABD" stroke-width="1.2" fill-opacity="0.153" stroke-opacity="0.153"/>
<circle cx="270.2" cy="363.1" r="12.3" fill="#348ABD" stroke="#348ABD" stroke-width="1.2" fill-opacity="0.062" stroke-opacity="0.062"/>
<circle cx="310.7" cy="330.5" r="12.3" fill="#348ABD" stroke="#348ABD" stroke-width="1.2" fill-opacity="0.121" stroke-opacity="0.121"/>
<circle cx="294.6" cy="340.2" r="12.3" fill="#348ABD" stroke="#348ABD" stroke-width="1.2" fill-opacity="0.158" stroke-opacity="0.158"/>
<circle cx="299.2" cy="357.2" r="12.3" fill="#348ABD" stroke="#348ABD" stroke-width="1.2" fill-opacity="0.060" stroke-opacity="0.060"/>
<circle cx="298.1" cy="362.0" r="12.3" fill="#348ABD" stroke="#348ABD" stroke-width="1.2" fill-opacity="0.143" stroke-opacity="0.143"/>
<circle cx="287.5" cy="364.4" r="12.3" fill="#348ABD" stroke="#348ABD" stroke-width="1.2" fill-opacity="0.064" stroke-opacity="0.064"/>
<circle cx="289.2" cy="355.0" r="12.3" fill="#348ABD" stroke="#348ABD" stroke-width="1.2" fill-opacity="0.176" stroke-opacity="0.176"/>
<circle cx="317.6" cy="317.7" r="12.3" fill="#348ABD" stroke="#348ABD" stroke-width="1.2" fill-opacity="0.052" stroke-opacity="0.052"/>
<circle cx="284.7" cy="362.9" r="12.3" fill="#348ABD" stroke="#348ABD" stroke-width="1.2" fill-opacity="0.081" stroke-opacity="0.081"/>
<circle cx="286.7" cy="333.8" r="12.3" fill="#348ABD" stroke="#348ABD" stroke-width="1.2" fill-opacity="0.051" stroke-opacity="0.051"/>
<circle cx="337.2" cy="340.2" r="12.3" fill="#348ABD" stroke="#348ABD" stroke-width="1.2" fill-opacity="0.077" stroke-opacity="0.077"/>
<circle cx="293.9" cy="331.5" r="12.3" fill="#348ABD" stroke="#348ABD" stroke-width="1.2" fill-opacity="0.099" stroke-opacity="0.099"/>
<circle cx="290.3" cy="338.0" r="12.3" fill="#348ABD" stroke="#348ABD" stroke-width="1.2" fill-opacity="0.094" stroke-opacity="0.094"/>
<circle cx="284.2" cy="359.7" r="12.3" fill="#348ABD" stroke="#348ABD" stroke-width="1.2" fill-opacity="0.083" stroke-opacity="0.083"/>
<circle cx="314.0" cy="371.3" r="12.3" fill="#348ABD" stroke="#348ABD" stroke-width="1.2" fill-opacity="0.093" stroke-opacity="0.093"/>
<circle cx="326.8" cy="333.7" r="12.3" fill="#348ABD" stroke="#348ABD" stroke-width="1.2" fill-opacity="0.144" stroke-opacity="0.144"/>
<circle cx="288.5" cy="373.0" r="12.3" fill="#348ABD" stroke="#348ABD" stroke-width="1.2" fill-opacity="0.062" stroke-opacity="0.062"/>
<circle cx="310.1" cy="348.5" r="12.3" fill="#348ABD" stroke="#348ABD" stroke-width="1.2" fill-opacity="0.138" stroke-opacity="0.138"/>
<circle cx="302.1" cy="330.4" r="12.3" fill="#348ABD" stroke="#348ABD" stroke-width="1.2" fill-opacity="0.102" stroke-opacity="0.102"/>
<circle cx="317.5" cy="320.2" r="12.3" fill="#348ABD" stroke="#348ABD" stroke-width="1.2" fill-opacity="0.062" stroke-opacity="0.062"/>
<circle cx="306.5" cy="353.0" r="12.3" fill="#348ABD" stroke="#348ABD" stroke-width="1.2" fill-opacity="0.066" stroke-opacity="0.066"/>
<circle cx="299.2" cy="346.1" r="12.3" fill="#348ABD" stroke="#348ABD" stroke-width="1.2" fill-opacity="0.170" stroke-opacity="0.170"/>
<circle cx="285.7" cy="352.1" r="12.3" fill="#348ABD" stroke="#348ABD" stroke-width="1.2" fill-opacity="0.134" stroke-opacity="0.134"/>
<circle cx="308.5" cy="306.9" r="12.3" fill="#348ABD" stroke="#348ABD" stroke-width="1.2" fill-opacity="0.100" stroke-opacity="0.100"/>
<circle cx="295.9" cy="359.1" r="12.3" fill="#348ABD" stroke="#348ABD" stroke-width="1.2" fill-opacity="0.052" stroke-opacity="0.052"/>
<circle cx="282.3" cy="359.2" r="12.3" fill="#348ABD" stroke="#348ABD" stroke-width="1.2" fill-opacity="0.178" stroke-opacity="0.178"/>
<circle cx="311.5" cy="314.9" r="12.3" fill="#348ABD" stroke="#348ABD" stroke-width="1.2" fill-opacity="0.129" stroke-opacity="0.129"/>
<circle cx="321.0" cy="344.0" r="12.3" fill="#348ABD" stroke="#348ABD" stroke-width="1.2" fill-opacity="0.094" stroke-opacity="0.094"/>
<circle cx="300.0" cy="334.7" r="12.3" fill="#348ABD" stroke="#348ABD" stroke-width="1.2" fill-opacity="0.099" stroke-opacity="0.099"/>
<circle cx="273.3" cy="340.0" r="12.3" fill="#348ABD" stroke="#348ABD" stroke-width="1.2" fill-opacity="0.157" stroke-opacity="0.157"/>
<circle cx="296.9" cy="334.8" r="12.3" fill="#348ABD" stroke="#348ABD" stroke-width="1.2" fill-opacity="0.150" stroke-opacity="0.150"/>
<circle cx="323.6" cy="328.3" r="12.3" fill="#348ABD" stroke="#348ABD" stroke-width="1.2" fill-opacity="0.096" stroke-opacity="0.096"/>
<circle cx="295.0" cy="342.0" r="12.3" fill="#348ABD" stroke="#348ABD" stroke-width="1.2" fill-opacity="0.143" stroke-opacity="0.143"/>
<circle cx="255.8" cy="363.4" r="12.3" fill="#348ABD" stroke="#348ABD" stroke-width="1.2" fill-opacity="0.060" stroke-opacity="0.060"/>
<circle cx="264.8" cy="361.1" r="12.3" fill="#348ABD" stroke="#348ABD" stroke-width="1.2" fill-opacity="0.100" stroke-opacity="0.100"/>
<circle cx="271.5" cy="338.6" r="12.3" fill="#348ABD" stroke="#348ABD" stroke-width="1.2" fill-opacity="0.150" stroke-opacity="0.150"/>
<circle cx="264.8" cy="336.4" r="12.3" fill="#348ABD" stroke="#348ABD" stroke-width="1.2" fill-opacity="0.060" stroke-opacity="0.060"/>
<circle cx="280.7" cy="311.7" r="12.3" fill="#348ABD" stroke="#348ABD" stroke-width="1.2" fill-opacity="0.120" stroke-opacity="0.120"/>
<circle cx="296.5" cy="316.2" r="12.3" fill="#348ABD" stroke="#348ABD" stroke-width="1.2" fill-opacity="0.250" stroke-opacity="0.250"/>
<circle cx="279.5" cy="339.5" r="12.3" fill="#348ABD" stroke="#348ABD" stroke-width="1.2" fill-opacity="0.450" stroke-opacity="0.450"/>
<circle cx="312.2" cy="318.2" r="12.3" fill="#348ABD" stroke="#348ABD" stroke-width="1.2" fill-opacity="0.550" stroke-opacity="0.550"/>
<circle cx="323.4" cy="318.2" r="12.3" fill="#348ABD" stroke="#348ABD" stroke-width="1.2" fill-opacity="0.550" stroke-opacity="0.550"/>
<circle cx="288.8" cy="322.0" r="12.3" fill="#348ABD" stroke="#348ABD" stroke-width="1.2" fill-opacity="0.450" stroke-opacity="0.450"/>
<circle cx="285.2" cy="365.6" r="12.3" fill="#348ABD" stroke="#348ABD" stroke-width="1.2" fill-opacity="0.400" stroke-opacity="0.400"/>
<circle cx="335.8" cy="369.0" r="12.3" fill="#348ABD" stroke="#348ABD" stroke-width="1.2" fill-opacity="0.450" stroke-opacity="0.450"/>
<circle cx="305.5" cy="366.7" r="12.3" fill="#348ABD" stroke="#348ABD" stroke-width="1.2" fill-opacity="0.700" stroke-opacity="0.700"/>
<circle cx="299.8" cy="340.4" r="12.3" fill="#348ABD" stroke="#348ABD" stroke-width="1.2" fill-opacity="0.900" stroke-opacity="0.900"/>
<circle cx="329.0" cy="343.1" r="12.3" fill="#348ABD" stroke="#348ABD" stroke-width="1.2" fill-opacity="0.850" stroke-opacity="0.850"/>
<circle cx="344.8" cy="340.4" r="11.3" fill="#FBC15E"/>
</g>
<rect x="292.4" y="426.3" width="260.2" height="121" rx="2.8" ry="2.8" fill="#E5E5E5" fill-opacity="0.8" stroke="#CCCCCC" stroke-opacity="0.8" stroke-width="1.2"/>
<circle cx="319.2" cy="445.4" r="11.3" fill="#FBC15E"/>
<circle cx="319.2" cy="470.8" r="11.3" fill="#E24A33"/>
<circle cx="319.2" cy="498.7" r="11.3" fill="#348ABD"/>
<circle cx="319.2" cy="526.6" r="11.3" fill="#777777"/>
<rect x="353.9" y="433.8" width="14.9" height="1.5" fill="#000"/>
<text x="352.83" y="452.50" font-size="22.5" font-style="italic" fill="#000" textLength="16.88" lengthAdjust="spacingAndGlyphs" stroke="#000" stroke-width="0.4">Q</text>
<text x="368.57" y="454.70" font-size="13.8" font-style="italic" fill="#000" textLength="18.47" lengthAdjust="spacingAndGlyphs" stroke="#000" stroke-width="0.4">BA</text>
<text x="353.38" y="476.20" font-size="19" font-style="italic" fill="#000" textLength="11.22" lengthAdjust="spacingAndGlyphs" stroke="#000" stroke-width="0.4">P</text>
<text x="363.60" y="476.20" font-size="19" fill="#000" textLength="7.54" lengthAdjust="spacingAndGlyphs" stroke="#000" stroke-width="0.4">(</text>
<text x="372.34" y="476.20" font-size="19" font-weight="bold" fill="#000" textLength="16.23" lengthAdjust="spacingAndGlyphs" stroke="#000" stroke-width="0.4">Q</text>
<text x="388.06" y="479.20" font-size="14.5" font-style="italic" fill="#000" textLength="19.22" lengthAdjust="spacingAndGlyphs" stroke="#000" stroke-width="0.4">BA</text>
<rect x="410.2" y="461.60" width="1.7" height="18.4" fill="#000"/>
<text x="414.51" y="476.20" font-size="19" font-style="italic" fill="#000" textLength="12.89" lengthAdjust="spacingAndGlyphs" stroke="#000" stroke-width="0.4">K</text>
<text x="427.21" y="479.20" font-size="14.5" fill="#000" textLength="15.82" lengthAdjust="spacingAndGlyphs" stroke="#000" stroke-width="0.4">S1</text>
<text x="442.31" y="476.20" font-size="19" fill="#000" textLength="10.47" lengthAdjust="spacingAndGlyphs" stroke="#000" stroke-width="0.4">,</text>
<text x="453.80" y="476.20" font-size="19" font-style="italic" fill="#000" textLength="18.55" lengthAdjust="spacingAndGlyphs" stroke="#000" stroke-width="0.4">W</text>
<text x="473.27" y="479.20" font-size="14.5" font-style="italic" fill="#000" textLength="9.06" lengthAdjust="spacingAndGlyphs" stroke="#000" stroke-width="0.4">A</text>
<text x="480.23" y="476.20" font-size="19" fill="#000" textLength="11.04" lengthAdjust="spacingAndGlyphs" stroke="#000" stroke-width="0.4">,</text>
<text x="491.30" y="476.20" font-size="19" font-style="italic" fill="#000" textLength="18.55" lengthAdjust="spacingAndGlyphs" stroke="#000" stroke-width="0.4">W</text>
<text x="510.97" y="479.20" font-size="14.5" font-style="italic" fill="#000" textLength="9.42" lengthAdjust="spacingAndGlyphs" stroke="#000" stroke-width="0.4">B</text>
<text x="522.38" y="476.20" font-size="19" fill="#000" textLength="6.66" lengthAdjust="spacingAndGlyphs" stroke="#000" stroke-width="0.4">)</text>
<text x="353.38" y="503.80" font-size="19" font-style="italic" fill="#000" textLength="11.22" lengthAdjust="spacingAndGlyphs" stroke="#000" stroke-width="0.4">P</text>
<text x="363.60" y="503.80" font-size="19" fill="#000" textLength="7.54" lengthAdjust="spacingAndGlyphs" stroke="#000" stroke-width="0.4">(</text>
<text x="372.34" y="503.80" font-size="19" font-weight="bold" fill="#000" textLength="16.23" lengthAdjust="spacingAndGlyphs" stroke="#000" stroke-width="0.4">Q</text>
<text x="388.06" y="506.80" font-size="14.5" font-style="italic" fill="#000" textLength="19.22" lengthAdjust="spacingAndGlyphs" stroke="#000" stroke-width="0.4">BA</text>
<rect x="410.2" y="489.20" width="1.7" height="18.4" fill="#000"/>
<text x="414.51" y="503.80" font-size="19" font-style="italic" fill="#000" textLength="12.89" lengthAdjust="spacingAndGlyphs" stroke="#000" stroke-width="0.4">K</text>
<text x="427.21" y="506.80" font-size="14.5" fill="#000" textLength="15.84" lengthAdjust="spacingAndGlyphs" stroke="#000" stroke-width="0.4">S2</text>
<text x="442.31" y="503.80" font-size="19" fill="#000" textLength="10.47" lengthAdjust="spacingAndGlyphs" stroke="#000" stroke-width="0.4">,</text>
<text x="453.80" y="503.80" font-size="19" font-style="italic" fill="#000" textLength="18.55" lengthAdjust="spacingAndGlyphs" stroke="#000" stroke-width="0.4">W</text>
<text x="473.27" y="506.80" font-size="14.5" font-style="italic" fill="#000" textLength="9.06" lengthAdjust="spacingAndGlyphs" stroke="#000" stroke-width="0.4">A</text>
<text x="480.23" y="503.80" font-size="19" fill="#000" textLength="11.04" lengthAdjust="spacingAndGlyphs" stroke="#000" stroke-width="0.4">,</text>
<text x="491.30" y="503.80" font-size="19" font-style="italic" fill="#000" textLength="18.55" lengthAdjust="spacingAndGlyphs" stroke="#000" stroke-width="0.4">W</text>
<text x="510.97" y="506.80" font-size="14.5" font-style="italic" fill="#000" textLength="9.42" lengthAdjust="spacingAndGlyphs" stroke="#000" stroke-width="0.4">B</text>
<text x="522.38" y="503.80" font-size="19" fill="#000" textLength="6.66" lengthAdjust="spacingAndGlyphs" stroke="#000" stroke-width="0.4">)</text>
<text x="353.38" y="531.40" font-size="19" font-style="italic" fill="#000" textLength="11.22" lengthAdjust="spacingAndGlyphs" stroke="#000" stroke-width="0.4">P</text>
<text x="363.60" y="531.40" font-size="19" fill="#000" textLength="7.54" lengthAdjust="spacingAndGlyphs" stroke="#000" stroke-width="0.4">(</text>
<text x="372.34" y="531.40" font-size="19" font-weight="bold" fill="#000" textLength="16.23" lengthAdjust="spacingAndGlyphs" stroke="#000" stroke-width="0.4">Q</text>
<text x="388.06" y="534.40" font-size="14.5" font-style="italic" fill="#000" textLength="19.22" lengthAdjust="spacingAndGlyphs" stroke="#000" stroke-width="0.4">BA</text>
<rect x="410.2" y="516.80" width="1.7" height="18.4" fill="#000"/>
<text x="415.90" y="531.40" font-size="19" fill="#000" textLength="8.02" lengthAdjust="spacingAndGlyphs" stroke="#000" stroke-width="0.4">{</text>
<text x="426.54" y="531.40" font-size="19" font-style="italic" fill="#000" textLength="12.09" lengthAdjust="spacingAndGlyphs" stroke="#000" stroke-width="0.4">K</text>
<text x="439.30" y="534.40" font-size="14.5" fill="#000" textLength="8.81" lengthAdjust="spacingAndGlyphs" stroke="#000" stroke-width="0.4">S</text>
<text x="449.71" y="531.40" font-size="19" fill="#000" textLength="7.92" lengthAdjust="spacingAndGlyphs" stroke="#000" stroke-width="0.4">}</text>
<text x="458.21" y="531.40" font-size="19" fill="#000" textLength="10.47" lengthAdjust="spacingAndGlyphs" stroke="#000" stroke-width="0.4">,</text>
<text x="469.70" y="531.40" font-size="19" font-style="italic" fill="#000" textLength="18.55" lengthAdjust="spacingAndGlyphs" stroke="#000" stroke-width="0.4">W</text>
<text x="489.17" y="534.40" font-size="14.5" font-style="italic" fill="#000" textLength="9.06" lengthAdjust="spacingAndGlyphs" stroke="#000" stroke-width="0.4">A</text>
<text x="496.13" y="531.40" font-size="19" fill="#000" textLength="11.04" lengthAdjust="spacingAndGlyphs" stroke="#000" stroke-width="0.4">,</text>
<text x="507.20" y="531.40" font-size="19" font-style="italic" fill="#000" textLength="18.55" lengthAdjust="spacingAndGlyphs" stroke="#000" stroke-width="0.4">W</text>
<text x="526.87" y="534.40" font-size="14.5" font-style="italic" fill="#000" textLength="9.42" lengthAdjust="spacingAndGlyphs" stroke="#000" stroke-width="0.4">B</text>
<text x="538.28" y="531.40" font-size="19" fill="#000" textLength="6.66" lengthAdjust="spacingAndGlyphs" stroke="#000" stroke-width="0.4">)</text>
<text x="166.31" y="597.00" font-size="24" fill="#555555" textLength="35.20" lengthAdjust="spacingAndGlyphs">0.3</text>
<text x="274.82" y="597.00" font-size="24" fill="#555555" textLength="34.71" lengthAdjust="spacingAndGlyphs">0.4</text>
<text x="382.82" y="597.00" font-size="24" fill="#555555" textLength="34.94" lengthAdjust="spacingAndGlyphs">0.5</text>
<text x="491.61" y="597.00" font-size="24" fill="#555555" textLength="35.10" lengthAdjust="spacingAndGlyphs">0.6</text>
<text x="56.51" y="163.60" font-size="24" fill="#555555" textLength="49.49" lengthAdjust="spacingAndGlyphs">0.00</text>
<text x="38.58" y="217.85" font-size="24" fill="#555555" textLength="67.54" lengthAdjust="spacingAndGlyphs">−0.05</text>
<text x="38.59" y="272.09" font-size="24" fill="#555555" textLength="67.46" lengthAdjust="spacingAndGlyphs">−0.10</text>
<text x="38.58" y="326.34" font-size="24" fill="#555555" textLength="67.54" lengthAdjust="spacingAndGlyphs">−0.15</text>
<text x="38.59" y="380.58" font-size="24" fill="#555555" textLength="67.46" lengthAdjust="spacingAndGlyphs">−0.20</text>
<text x="38.58" y="434.83" font-size="24" fill="#555555" textLength="67.54" lengthAdjust="spacingAndGlyphs">−0.25</text>
<text x="38.59" y="489.07" font-size="24" fill="#555555" textLength="67.46" lengthAdjust="spacingAndGlyphs">−0.30</text>
<text x="38.58" y="543.32" font-size="24" fill="#555555" textLength="67.54" lengthAdjust="spacingAndGlyphs">−0.35</text>
<text x="327.36" y="632.60" font-size="26.3" font-style="italic" fill="#555555" textLength="21.13" lengthAdjust="spacingAndGlyphs">Q</text>
<text x="348.22" y="636.30" font-size="17.8" fill="#555555" textLength="11.05" lengthAdjust="spacingAndGlyphs">0</text>
<g transform="translate(19.3,357.3) rotate(-90)">
<text x="-1.30" y="0.00" font-size="26.3" font-style="italic" fill="#555555" textLength="20.46" lengthAdjust="spacingAndGlyphs">Q</text>
<text x="19.35" y="4.00" font-size="17.8" fill="#555555" textLength="10.58" lengthAdjust="spacingAndGlyphs">1</text>
</g>
</svg>
</body></html>
